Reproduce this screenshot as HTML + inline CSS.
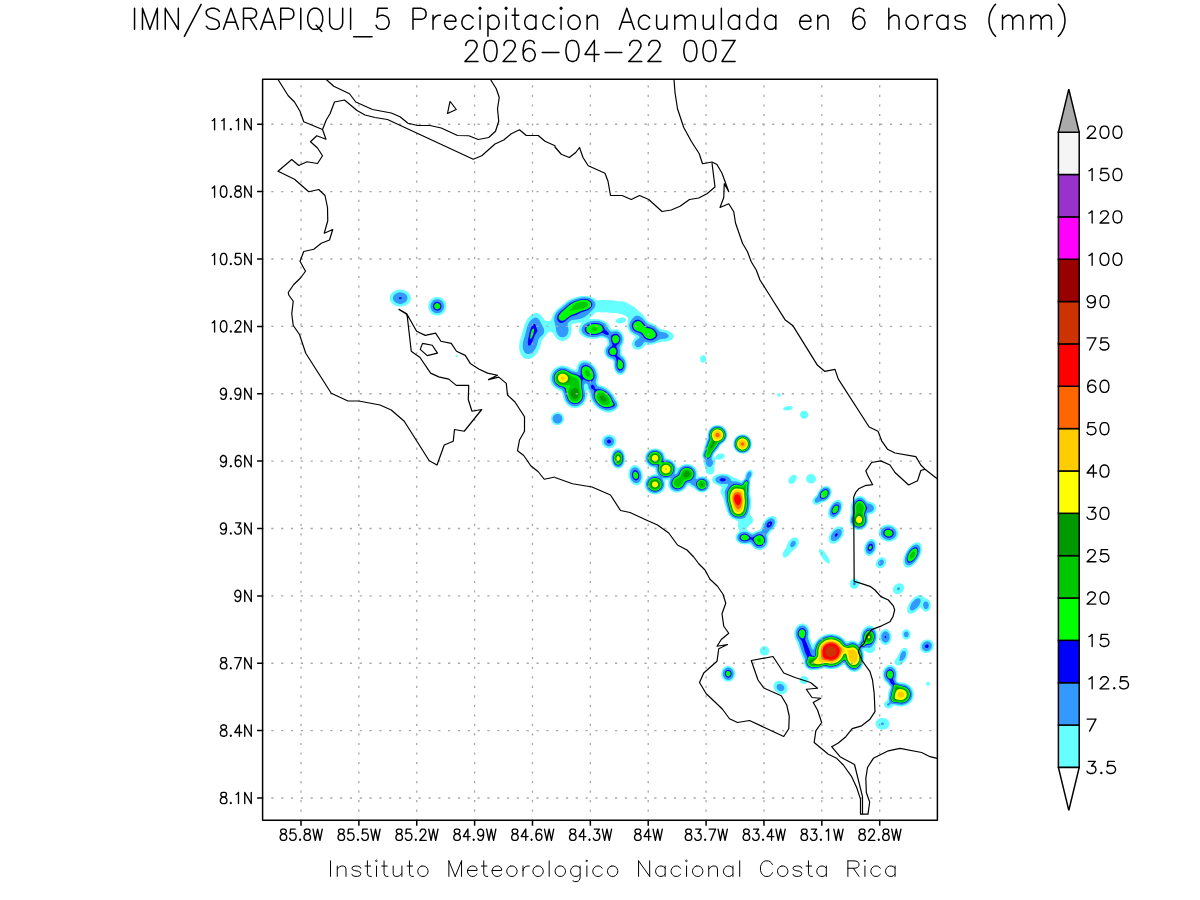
<!DOCTYPE html><html><head><meta charset="utf-8"><title>IMN SARAPIQUI Precipitacion</title><style>html,body{margin:0;padding:0;background:#fff;overflow:hidden;font-family:"Liberation Sans",sans-serif}svg{display:block}</style></head><body><svg width="1200" height="900" viewBox="0 0 1200 900"><rect width="1200" height="900" fill="#fff"/><defs><clipPath id="cp"><rect x="262.6" y="79.25" width="674.8" height="741.05"/></clipPath></defs><g clip-path="url(#cp)" fill-rule="evenodd" shape-rendering="geometricPrecision"><path fill="#66ffff" d="M397.1 290 399.5 289.6 401.5 289.7 403.5 290 405.5 290.7 407.5 291.9 408.7 293 409.9 294.5 410.5 296 410.9 297.5 410.7 299.5 410.3 301 409.4 302.5 408 303.9 406.5 305 405 305.7 403 306.3 401 306.6 399 306.6 397 306.2 395 305.5 393.5 304.7 392 303.5 390.8 302 390 300.5 389.7 299 389.7 297 390.1 295.5 391 294 392 292.8 393.5 291.6 395 290.7ZM581.7 296 586 295.9 590 296.6 593 297.8 596.5 300 597.5 300.4 598.5 300.4 602.5 299.7 608 300.3 613 300.2 618.5 301.2 623 301.4 625.5 302.1 629.7 304.5 633.5 306.4 635.5 307.8 638.5 311 642.7 314.5 644 316.1 646.9 320.5 648.5 322 654.5 324.4 656 325.4 659.1 328 660.5 328.9 662 329.4 666.5 330.2 669.5 331.4 672 333 673.2 334.5 673.6 335.5 673.7 336.5 673.3 338 671.9 339.5 670 340.6 668 341.2 666 341.6 659.5 341.9 655 343.8 652.5 344.5 650.5 344.7 646.5 344.6 645.5 345 643 347.7 641 349.1 638.5 349.8 636 349.6 634.5 348.9 633.5 348.1 632.6 347 632.1 345.5 631.9 343.5 632.4 341.5 633.2 340 635.3 337.5 635.4 337 635.3 336.5 634.8 336 632 334.2 630.5 332.9 629.4 331.5 628.2 329.5 627.6 327.5 627.3 325.5 627.6 321.5 628.3 319 628.1 318 627.6 317.5 625.6 316 623.8 315 617 313.1 612 312.9 607 312.2 602 312.4 597.5 311.8 596.5 311.9 595.5 312.5 589.9 318 589.4 318.5 589.3 319 590.5 319.2 595.5 319.1 598.5 319.3 601.5 319.9 604 320.8 606.5 322.2 608.4 324 609.4 325.5 610.3 328 611 329.1 612 329.6 616 329.2 618.5 329.8 620 330.7 621 331.5 622 332.6 622.9 334 623.9 337 624.1 340 623.8 342 623.3 343.5 621.4 347.5 621.7 353.5 622 354.5 622.3 355 624 356.6 625.1 358 626.3 360.5 626.8 362.5 627 364.5 626.9 367 626.4 369 625.7 371 624.7 372.5 623.5 373.8 622 374.7 620.5 375 619 374.8 617.5 374.1 616.5 373.3 615.1 371.5 614.1 369 613.6 366.5 613.5 362.3 613.1 361 612 360 609 358.9 607 357.6 605.2 355.5 604.4 353.5 604.1 351 604.5 349 605.2 347.5 607.1 345 607.6 344 607.5 342.5 607.1 340.5 606.7 339.5 605.4 338.5 602.5 337.4 601.5 337.5 598 338.3 595.5 338.7 592.5 338.8 590 338.6 586 337.7 584 336.9 582.6 336 581 334.7 580 333.5 579.2 332 578.8 330.5 578.8 329 579.2 327.5 579.9 326 581.7 323 581.5 322.5 580 322.5 573.7 323.5 572.5 323.9 571.8 324.5 571.5 325 571.3 326 571.5 329.5 571.4 331.5 570.7 334.5 569.8 336.5 568.7 338 567.5 339.1 566 340.1 564.5 340.7 562.5 341 560.5 340.7 559 340.1 557.5 339.2 556.3 338 555.2 336.5 553.5 333.7 552.5 332.5 551 331.8 549 331.9 548 332.4 547.5 333 545.4 336 542.3 339.5 541.4 341.5 539.9 347.5 538.6 350.5 536.5 354 534 356.6 532.5 357.6 530.5 358.6 528.5 359.1 526.5 359 525 358.6 523.5 357.8 522.2 356.5 521.1 355 519.8 352 519.2 349 519.1 345.5 519.7 341.5 524.7 324 526.7 320 528 318.1 529.5 316.5 531.5 314.9 534 313.5 536 313 537.5 313 539 313.7 541 315.3 542.4 317 544.5 320 545.5 320.8 546.5 321.1 547.5 321.2 550 320.7 550.5 320.4 551.2 319.5 553.1 314.5 554.2 312.5 555.4 311 557.5 308.8 561.7 305.5 566 301.7 569 299.8 572.5 298.4 577.5 296.8ZM435.8 297 437.5 296.9 439.5 297.2 441 297.7 442.5 298.6 444 300 445 301.5 445.7 303 446.2 305 446.2 307 445.9 309 445.3 310.5 444.4 312 443.5 313 442 314.2 440.5 315 438.7 315.5 437 315.6 435 315.3 433.5 314.8 432 313.9 430.5 312.5 429.5 311 428.8 309.5 428.3 307.5 428.3 305.5 428.6 303.5 429.2 302 430.1 300.5 431 299.5 432.5 298.3 434 297.5ZM619.3 318 621.5 317.5 623.5 317.6 625 318.1 625.9 319 626.1 320 625.6 321 624.5 322 622.5 323 620.5 323.4 618.5 323.4 617 323 615.9 322 615.7 321 616.1 320 617.5 318.8ZM455.8 355.5 456.5 355.1 457.5 355.5 457.7 356 457.5 356.9 457 357.3 456.5 357.4 456 357.2 455.5 356.5 455.5 356ZM702 355.5 703.5 355.3 704.5 355.6 705.5 356.5 706 357.5 706.2 359 706 360.5 705.5 361.5 704.2 362.5 703 362.7 702 362.5 701 361.7 700.3 360.5 700 359 700.3 357.5 701 356.3ZM582.1 360.5 583.5 360.2 585 360.2 588 360.9 591 362.6 592.5 363.9 594.1 365.5 595.5 367.5 596.7 369.5 598.1 373.5 598.5 375.5 598.6 377.5 597.9 382.5 598.4 384 599.5 384.9 603.5 386.3 606 387.6 608.5 389.3 610.5 391.1 612.2 393 613.7 395 616 399 618 402 618.7 404 618.6 406 617.7 408 616 409.8 613.5 411.3 611 412.2 608.5 412.5 606 412.2 603 411.3 600.5 410 598 408.4 595.5 406.2 593.2 403.5 590.9 399.5 589.8 396.5 589 393 588.5 391.9 587.5 390.5 587 389.9 586.6 390 587 395 586.8 397 586.3 399 585.3 401.5 583.5 404.2 581 406.3 579.5 407.2 578 407.7 575 408.1 572 407.7 570.5 407.2 569 406.3 567.5 405.2 566 403.6 564.2 400.5 563.5 398.5 562.5 394.3 561.5 392 560.5 391 556 388.8 553.5 386.8 552.4 385.5 551.5 384 550.8 382.5 550.2 380.5 550 378.5 550.1 376.5 550.4 375 551.1 373 551.9 371.5 553 370 554.5 368.5 556 367.4 558 366.5 560 365.9 562 365.6 564 365.7 566 366.1 567.5 366.6 573 369.4 574.5 369.8 575.5 369.8 576 369.5 576.3 369 577.2 365.5 578.5 363 580 361.5ZM777.8 393.5 779 393.2 779.8 393.5 780.3 394 780.5 394.5 780.5 395.5 779.8 396.5 778.5 396.8 777.8 396.5 777.3 396 777.1 395.5 777.1 394.5ZM786 406.5 788 406.1 790 406 791.5 406.3 792.6 407 792.9 407.5 792.7 408.5 791.5 409.5 790 410.1 788 410.5 786 410.6 784.5 410.3 783.5 409.7 783.1 409 783.4 408 784.5 407.1ZM802.6 411 804.5 410.7 806 411.1 807.3 412 808.2 413.5 808.4 415 807.9 416.5 807 417.7 805.5 418.5 804 418.7 802.5 418.4 801.2 417.5 800.2 416 800 414.5 800.4 413 801.5 411.6ZM555.7 412.5 558 412.3 559.5 412.6 560.5 413 561.5 413.6 562.5 414.6 563.1 415.5 563.8 417 564 419.5 563.6 421 563.1 422 561.5 423.9 560.5 424.5 559.3 425 557 425.2 555.5 424.9 554.5 424.5 553.5 423.9 552.5 422.9 551.9 422 551.2 420.5 551 418 551.4 416.5 551.9 415.5 553.5 413.6 554.5 413ZM717.5 425 719.5 425.2 721.5 425.8 723 426.6 724.7 428 725.9 429.5 726.9 431.5 727.4 433.5 727.5 435.5 727 438 725.9 440.5 724.1 442.5 720.9 445 719.1 448 716.5 451 714.5 453.8 714 454.7 713.6 456 713.6 457 713.9 457.5 714.5 458 716.1 455.5 717.4 454.5 719.5 453.7 721.5 453.5 723 453.8 724.1 454.5 724.6 455.5 724.4 457 723 458.5 722 459.1 720.5 459.6 718.5 459.8 715.5 459.3 715.2 460 715.2 461 715 463.5 714.3 467 714.4 470.5 713.7 472.5 712.9 473.5 711.5 474.3 710 474.4 708.2 474 707.4 473.5 706.5 472.6 705.7 471 705.4 468 703.8 463.5 703.6 460 702.4 457 702.1 455 702.4 453.5 703.4 450.5 704.2 447 705.1 444.5 705.9 441.5 707.4 438 707.6 433.5 708 432 708.6 430.5 710.3 428 712.5 426.3 715 425.3ZM740.4 434.5 742 434.2 744 434.4 745.5 434.7 747.5 435.7 749 437 750.3 438.5 751.3 440.5 751.7 442 751.9 444 751.7 446 751.3 447.5 750.3 449.5 749 451 747.5 452.3 746 453.1 744.6 453.5 743 453.8 741 453.6 739.5 453.3 737.5 452.3 736 451 734.7 449.5 733.7 447.5 733.3 446 733.1 444 733.3 442 733.7 440.5 734.7 438.5 736 437 737.5 435.7 739 434.9ZM606.6 435 608 434.7 609.5 434.6 612 435.2 613.3 436 614.5 437 615.8 439 616.2 440.5 616.2 442 615.9 443.5 615.5 444.5 614 446.5 613 447.3 611.4 448 610 448.3 608.5 448.4 606 447.8 604.7 447 603.5 446 602.2 444 601.8 442.5 601.8 441 602.1 439.5 602.5 438.5 604 436.5 605 435.8ZM616.4 448.5 618 448.2 619.5 448.4 621 449.1 622 449.9 623.3 451.5 624.1 453 624.7 454.5 625.1 456.5 625.3 458.5 625.1 460.5 624.7 462.5 624.1 464 623.3 465.5 622.1 467 621 467.9 619.7 468.5 618.5 468.7 617 468.6 616 468.3 614.5 467.3 613.3 466 612.3 464.5 611.7 463 611.2 461 611 459 611.1 456.5 612.1 453 612.9 451.5 614 450.1 615 449.2ZM653.4 448.5 655.5 448.4 657.5 448.7 659.5 449.4 661.5 450.6 663 452 664 453.5 664.7 455 665.5 457.5 665.9 458 666.8 458.5 670.5 459.6 672 460.4 673.4 461.5 674.3 462.5 675.4 464 677 468 677.5 468.4 681 465.7 682.5 464.9 684 464.4 685.5 464.1 687.5 464 689.5 464.3 691 464.8 692.5 465.5 694 466.6 695 467.6 696.1 469 696.8 470.5 697.3 472 697.5 476 697.8 476.5 698.5 476.7 702 476.2 704.5 476.6 706 477.3 707 478 708.9 480 709.7 481.5 710 483.5 709.9 485.5 709.6 487 708.9 488.5 707.7 490 706.5 491.1 705 491.9 703.5 492.3 701.5 492.5 700 492.3 698.5 491.8 696.5 490.5 694 488.2 691.5 487 689.5 485.5 688.5 485.1 687.5 485.6 685.8 488 684.4 489.5 683 490.6 681.5 491.4 678.5 492.4 675.5 492.4 674 492.1 672.5 491.4 670.5 489.9 669.7 489 668.9 487.5 668.3 486 668.1 484.5 668.3 480.5 668 479.9 667 479.8 665.5 480 665.1 480.5 665.5 485 665.2 487 664.3 489 662.5 491.4 660 493.2 658.5 493.8 656.5 494.3 654.5 494.4 652.5 494.1 650.5 493.4 649 492.6 647.5 491.4 646.3 490 645 487.5 644.6 486 644.5 484.5 644.7 482 645.8 479.5 647.4 477.5 649 476.2 651.5 474.9 655.5 474 655.8 473.5 655.8 473 655.1 469.5 654.7 468.5 654 468 651.5 467.3 649.5 466.4 647.7 465 646.4 463.5 645.6 462 644.9 460 644.7 458.5 644.9 456.5 645.3 455 646 453.5 647 452 648 451 650.5 449.4ZM632.7 465.5 634 465.1 635.5 465.1 637 465.6 638.5 466.5 639.6 467.5 640.7 469 641.8 471 642.3 472.5 642.7 474.5 642.9 476.5 642.8 478.5 642.3 480.5 641.6 482 640.6 483.5 639.5 484.5 638.5 485 637 485.4 635.5 485.3 634 484.8 633 484.2 631.7 483 630.5 481.5 629.7 480 629 478 628.5 476 628.4 474 628.8 470.5 629.4 469 630.3 467.5 631.5 466.2ZM749.1 470 750.5 469.7 751.5 470 752.5 471 752.9 472.5 752.9 474 752.6 475.5 750.8 479 750.5 480 750.5 482.5 750.2 486 750.3 489 750.1 493 751.1 499 751.3 503 750.9 507.5 749.8 513.5 750.2 515 752.6 518 753 519 753.1 520 752.9 521.5 752 522.9 748.6 526 747.5 527.5 746.7 529 746.6 529.5 746.9 530 751 532.4 752.5 532.7 753.5 532.4 756 531.2 759.5 530.1 760.2 529.5 760.8 528.5 762.7 523.5 764.5 520.5 767 518 768.5 517.1 770 516.4 772.5 516 774.5 516.6 775.5 517.3 776.1 518 776.6 519 776.9 520.5 776.9 522 776.7 523.5 776.2 525 775.2 527 773.5 529.2 770.5 532 768.4 535 768.1 536 768.6 539.5 768.5 542 767.7 544.5 766.5 546.5 765.5 547.6 764 548.7 761.5 549.7 760 550 758.5 550 757 549.7 755.3 549 753.2 547.5 751 544.9 750 544.1 749 544 744.5 544.5 741.5 544.1 740 543.6 738.5 542.7 737.1 541.5 736.4 540.5 735.6 538.5 735.5 537 735.7 536 736.7 534 738.9 531.5 739.4 530.5 739.3 530 738.5 528.4 738 527 738 525.5 738.3 523 738.3 522 738.1 521.5 737.5 520.9 733.5 519.1 731.5 517.9 729.9 516.5 728.3 514.5 726.7 511 724.8 504.5 723.2 498 721.2 494 720.7 492.5 720.6 490.5 721.5 487.5 721.5 487 721.1 486.5 720.2 486 716.5 484.6 714.4 483.5 712.9 482 712.3 481 712.1 480 712.3 478.5 712.7 477.5 713.5 476.5 714.5 475.7 716.5 474.8 718.5 474.2 721 473.8 723 473.7 726 474 728.5 474.7 731 475.8 734.5 478 738.5 479.4 741 480.5 742 480.7 743 479.9 744.5 478 745.4 474.5 746.4 472.5 747.5 471.1ZM808.8 474.5 810.5 474 812.5 474.2 814.1 475 815.4 476.5 815.9 478 815.8 480 815 481.6 814.1 482.5 813.2 483 811.5 483.5 809.5 483.3 807.9 482.5 806.6 481 806.1 479.5 806.2 477.5 807 475.9 807.9 475ZM792.8 475 794.5 474.8 795.3 475 796 475.5 796.6 476.5 796.8 478 796.4 479.5 795.5 481.2 794 482.8 792.5 483.6 791 484 789.5 483.6 788.5 482.5 788.2 481 788.5 479.4 789.5 477.5 791 476ZM825.4 486 827 486 828.5 486.3 830 487.3 830.9 488.5 831.5 490 831.7 491.5 831.6 493 831.1 495 829.9 497.5 828.7 499 827.5 500.1 825.5 501.4 822 502.6 818.5 504.5 817.5 504.8 816 504.9 814.5 504.6 813.6 504 812.8 503 812.4 502 812.4 501 812.7 499.5 813.8 497.5 816.5 495 818.6 491 820.1 489 822.5 487 824 486.3ZM858.5 496 860.5 495.9 862 496.3 863 496.7 864.8 498 867 500.5 868 501.3 871.5 502.2 873.3 503 874.5 504 875.3 505 876.1 507 876.2 508.5 875.9 510 875.5 511 874.5 512.3 872.5 513.7 869.5 514.6 868.5 515.1 868.2 516.5 868.5 520.5 868.1 523 867.5 524.5 866.7 526 865 527.9 863 529.3 860.5 530.1 858 530.2 856 529.7 854 528.7 852 526.9 850.7 525 849.7 522 849.5 520 849.7 518 851 513 850.7 507.5 851 505 851.6 503 852.7 500.5 854.5 498.2 856.5 496.7ZM837.1 500 838.5 499.9 839.5 500 840.5 500.5 841.5 501.5 842.1 502.5 842.6 504 842.7 505.5 842.5 507.5 842.1 509.5 841.3 511.5 839.5 514.5 837 517.1 835.5 518.1 834 518.7 832.5 518.9 831.5 518.8 830.5 518.4 829.4 517.5 828.5 516 828.1 514.5 828.1 513 828.2 511 829.3 507.5 830.4 505.5 831.5 503.9 833 502.3 834.5 501.1 836 500.3ZM884.9 525 886.5 524.7 888.5 524.6 890.5 524.9 892.5 525.5 894 526.3 895.6 527.5 896.9 529 897.8 530.5 898.3 532 898.5 534 898.2 535.5 897.6 537 896.6 538.5 895.5 539.5 894 540.5 892 541.3 890 541.6 888.5 541.7 886.5 541.4 884.5 540.8 883 540 881.5 538.9 880.2 537.5 879.3 536 878.8 534.5 878.5 532.5 878.7 531 879.3 529.5 880.2 528 881.5 526.7 883 525.7ZM838.3 526.5 839.5 526.3 841 526.4 842 526.8 843 527.7 843.7 529 843.9 530 844 531.5 843.8 533 843.2 535 842.4 536.5 840.3 539.5 837.5 542 836 542.9 834.2 543.5 833 543.7 831.5 543.6 830.5 543.2 829.5 542.3 828.8 541 828.6 540 828.5 538.5 828.7 537 829.3 535 830.1 533.5 832.2 530.5 835 528 836.5 527.1ZM794 537.5 795.5 537.5 796.5 537.8 797.5 538.5 798 539.1 798.5 540 798.8 541.5 798.7 543 798.3 544.5 797.6 546 796.5 547.6 795 549 791.8 551.5 789 555.1 787.5 556.5 786 557.3 785 557.5 784 557.3 783.5 557 783 556.3 782.7 555.5 782.7 554.5 783 553 783.9 551 786.2 547.5 787.8 543 788.9 541 791 538.8 792.5 537.9ZM871.3 539 872.5 539 873.5 539.3 874.5 540 875.5 541.1 876.2 542.5 876.6 544 876.6 547 875.9 550 875.2 551.5 874.2 553 873 554.3 872 555.1 870.5 555.8 869.5 556 868 555.9 867 555.5 866 554.8 865.3 554 864.8 553 864.3 551.5 864.1 550 864.1 548 864.9 545 865.6 543.5 866.6 542 867.5 541 869 539.8 870 539.3ZM916.1 542.5 917.5 542.3 919 542.6 920.3 543.5 921.3 545 921.7 546.5 921.9 548.5 921.8 550.5 921.2 553 920.3 555.5 919.1 558 917.6 560.5 916.1 562.5 914.5 564.1 912.5 565.8 910.5 567 908.9 567.5 907.5 567.7 906 567.4 904.7 566.5 903.7 565 903.3 563.5 903.1 561.5 903.2 559.5 903.8 557 904.7 554.5 905.9 552 907.4 549.5 908.9 547.5 910.5 545.9 912.5 544.2 914.5 543ZM819.5 549 820 548.9 821 549.2 823 550.5 825 552.6 827.2 555.5 828.8 558.5 829.7 561 829.9 562 829.7 563 829 563.6 827.5 563.2 825.5 561.7 823.5 559.6 821.6 557 819.9 554 819 551.5 818.9 550 819 549.5ZM880.4 557.5 882.5 557.2 883.5 557.4 884.5 557.9 885.6 559 886 560 886.2 561 886.1 563 885.2 565 883.5 566.9 881.6 568 879.5 568.3 878.5 568.1 877.5 567.6 876.4 566.5 876 565.5 875.8 564.5 875.9 562.5 876.8 560.5 878.5 558.6ZM852.4 579 854 578.5 856 578.8 857.5 579.8 858.7 581.5 859.1 583.5 858.9 585.5 858 587.1 856.5 588.4 855 589 853 588.8 851.5 587.9 850.6 587 850.1 586 849.6 584 849.9 582 851 580.1ZM898 583.5 900 583.3 901 583.5 902.1 584 903 584.8 903.5 585.5 903.9 586.5 904.1 587.5 903.8 589.5 902.8 591.5 901 593.1 899 594 897 594.2 896 594 894.9 593.5 894 592.7 893.5 592 893.1 591 892.9 590 893.2 588 894.2 586 896 584.4ZM919.1 595 920.5 594.9 921.5 595.1 922.7 596 924.2 598 925 598.4 927 598.8 928.5 599.7 929.5 600.9 930.1 602 930.6 603.5 930.8 605.5 930.5 607.5 929.6 609.5 928.5 610.8 927 611.6 925.5 611.7 924 611.1 922.8 610 921 607.3 920.5 607.3 920 607.5 918.6 609 916.5 611 914.5 612.4 912.5 613.4 911 613.8 909.5 613.8 908.1 613 907.2 611.5 907.1 610 907.3 608 908.2 605.5 909.5 603 911.3 600.5 913.5 598.2 915.5 596.6 917.5 595.5ZM799.9 624 802 623.5 803.5 623.6 804.5 623.9 806.5 625.1 808.2 627 809.1 629 809.7 631 809.8 633 809.6 636.5 809.9 638 812 643.4 812.5 644.3 813 644.7 813.5 644.6 814 644 815.7 641.5 817.3 639.5 820.5 636.8 822.5 635.7 825 634.7 827 634.1 830 633.7 834 633.9 836 634.4 838.5 635.2 842 637.2 844 638.8 846 640.9 847 641.5 848 641.4 850.5 640.6 852.5 640.5 855 641.1 858 642.5 858.5 642.4 859.5 641.3 860.2 640 860.4 636.5 860.9 634 861.8 631.5 863.4 629 865.5 627.1 867.5 626 870 625.6 872 626.1 874 627.2 875 628.2 875.9 629.5 877.2 632.5 877.8 636 877.7 638 877.3 640 875.3 645.5 875.1 649 874.9 650 873.9 651.5 872.5 652.5 870.5 653 868.5 652.9 866.5 652 864.5 650.4 864 650.3 863.7 650.5 863.6 651 864.1 656 864.1 659 863.7 662 862.9 665 861.6 667.5 860 669.5 858 671 856 671.7 854.5 671.9 853 671.8 851.5 671.4 850 670.7 847.8 669 845 665.5 844.5 665 844 664.8 843 665.1 840.5 666.8 838.5 667.8 836 668.6 833.5 669.1 829.5 669.3 824 668.3 822.7 668.5 818.5 669.7 816.5 669.9 812 670.2 810.5 670 809 669.6 807.5 668.8 806.5 668 805.6 667 804.7 665.5 804.1 663.5 803.5 659.8 801.6 656 797 642.6 795.2 639 794.4 636.5 794.2 634.5 794.3 632.5 794.6 630.5 795.2 629 796 627.5 797.1 626 798.5 624.8ZM885.5 629 887 629.2 888 629.7 889 630.5 889.9 631.5 891.1 634 891.5 637 891.1 640 889.9 642.5 889 643.5 888 644.3 887 644.8 885.5 645 884 644.8 883 644.3 882 643.5 881.1 642.5 879.9 640 879.3 637 879.4 635.5 879.8 634 881.1 631.5 882 630.5 883 629.7 884 629.2ZM904.6 629.5 905.5 629.2 906.5 629.1 908 629.6 909.5 630.9 910.3 632.5 910.6 634.5 910.3 636.5 909.8 637.5 909 638.5 907.5 639.4 906 639.6 905 639.4 904.2 639 903 637.9 902.1 636 901.9 634 902.3 632 903.3 630.5ZM926.3 639.5 927.5 639.4 929 639.5 930 639.8 931.3 640.5 932.3 641.5 933 642.5 933.5 643.5 933.7 645 933.5 647.5 932.9 649 932.2 650 931.3 651 930 652 928.5 652.7 927.5 653 925 653 923.5 652.6 922.5 652 921.5 651.1 920.7 650 920.3 649 920 647.5 920.3 645 920.9 643.5 921.5 642.5 923.5 640.6 925 639.9ZM764.5 646 766.5 646.4 768 647.5 768.9 649 769.3 650.5 769 652.5 768.1 654 766.5 655.2 765 655.6 763 655.4 761.4 654.5 760.2 653 759.7 651 760.1 649 761 647.5 762.5 646.4ZM903.8 648 905 647.8 906 648.1 907 648.9 907.6 650 908 651.5 908 653 907.8 655 907.4 656.5 906.6 658.5 905.8 660 903.5 662.8 901 664.8 900 665.2 898.5 665.5 897 665.3 895.5 664.5 894.6 663 894.5 662 894.6 661 895.3 659.5 897.5 657 899.1 653 900.5 650.7 902 649ZM889.8 665 892 665.2 894 666.2 895.3 667.5 896.4 669.5 897.1 671.5 897.5 673.5 897.4 676 896.8 679.5 897 680.6 897.5 681.5 898 681.9 899 682.2 903 682.6 905 683.1 907 683.8 908.5 684.7 910.5 686.3 911.9 688 913.1 690 913.7 692 914 695 913.6 697.5 912.3 700.5 910.5 702.7 908 704.6 905.5 705.8 902.5 706.4 899 706.4 895 705.6 894 705.5 893 706 891.5 707.5 890.5 708.1 889.5 708.4 888 708.5 886.5 708.1 885.5 707.5 884.6 706.5 884.1 705.5 884 704 884.6 702.5 885.5 701.5 887 700.5 887.6 699.5 888.2 692.5 888.7 690.5 890 687.5 889.7 686.5 887.5 684 885 681.6 883.6 679.5 882.7 676.5 882.6 673 883.4 670 884.2 668.5 885 667.4 887 665.8 888.5 665.2ZM726.5 666 728 665.7 729.5 665.9 731 666.4 732 667 733 667.9 733.9 669 734.7 670.5 735.1 672 735.3 673.5 735.2 675 734.8 676.5 734.2 678 732.5 680.1 731.5 680.8 730 681.5 728.5 681.8 727 681.6 725.5 681.1 724.5 680.5 723.5 679.6 722.6 678.5 721.8 677 721.4 675.5 721.2 674 721.3 672.5 721.7 671 722.3 669.5 724 667.4 725 666.7ZM804 676 805.5 676.2 807 677 808.2 678.5 808.5 680 808.2 681.5 807.5 682.5 806.2 683.5 804.5 684 802.5 683.8 801 683 799.8 681.5 799.5 680 799.8 678.5 801 677 802.5 676.2ZM777.8 681 779 680.8 780.5 680.9 783 681.8 785.3 683.5 786.2 684.5 787 686 787.6 688.5 787.4 690 787.1 691 786.5 692 785.5 693 784.5 693.6 783.2 694 782 694.2 780.5 694.1 778 693.2 775.7 691.5 774.8 690.5 774 689 773.4 686.5 773.6 685 773.9 684 774.5 683 775.5 682 776.5 681.4ZM927.2 682 928 681.8 928.8 682 929.5 682.5 929.8 683 930 684 929.9 684.5 929 685.5 928.5 685.7 927.5 685.7 926.5 685.1 926.1 684.5 926 684 926.2 683 926.5 682.5ZM880.7 718 882 717.8 883.5 717.9 886 718.6 887.9 720 888.7 721 889.2 722 889.4 723 889.5 724.5 888.8 726.5 888 727.5 887 728.4 886 729 884.5 729.6 883 729.8 881.5 729.7 879 729 877 727.5 875.8 725.5 875.5 724.5 875.6 723 876.3 721 877.1 720 878 719.2 879.5 718.4Z"/><path fill="#3399ff" d="M398.5 292.5 400 292.3 401.5 292.4 404 293.2 405.9 294.5 406.7 295.5 407.2 296.5 407.5 297.5 407.4 299 406.5 301 405 302.5 402.5 303.6 401 303.9 399.5 303.9 398 303.6 396.5 303.1 395.5 302.5 394.4 301.5 393.6 300.5 393.2 299.5 393 298.5 393.1 297 393.5 296 394.1 295 396 293.4ZM581.4 297.5 584.5 297.3 587 297.5 589.5 298.1 592 299.3 593.5 300.5 595 302.5 595.4 304 595.3 306 594.2 308 592.5 310 587.4 315 584.7 317 582 318.3 579.5 319.1 577 319.6 572 320.1 570.5 320.8 568.9 322 568.1 323 567.7 324 567.6 325 568.4 328.5 568.5 330.5 568 333 567 334.9 566 336 564.5 336.9 563.5 337.2 562 337.3 560.7 337 559.5 336.4 558.5 335.5 557.5 334.2 556.7 332.5 556.2 331 555.5 326 554.2 321 554.2 318 554.8 315.5 556.1 313 558 310.7 568 302.4 570.5 301 573.5 299.7 578 298.2ZM435.1 299.5 436.5 299.2 438 299.2 439.5 299.5 440.5 300 441.5 300.7 442.5 301.7 443.7 304 444.1 305.5 444.1 307 443.3 309.5 441.9 311.5 440.5 312.5 439.4 313 438 313.3 436.5 313.3 435 313 434 312.5 433 311.8 432 310.8 430.8 308.5 430.4 307 430.4 305.5 431.2 303 432.6 301 434 300ZM635.2 316 636 315.7 637.5 315.7 639 316.1 640.5 316.8 643 318.8 646.1 322.5 647.5 323.8 653.5 326 655.5 327.4 658.5 330.3 660 331.4 661.5 332 664.5 332.6 666 333.1 667.5 334 668.4 335 668.6 336 668.5 336.7 667.9 337.5 667 338.1 665 338.8 661 339.1 659.5 339.4 654.5 341.9 652.6 342.5 650 342.8 645.5 342.1 644.5 342.2 643.5 342.9 642.2 345 641.3 346 640 346.8 639 347.1 637.5 347.2 636.5 346.9 635.5 346.1 635 345.5 634.6 344.5 634.6 343.5 634.7 342.5 635.2 341.5 636.5 340 639 338.5 639.5 338 639.6 337 639.1 336 638.5 335.5 634 333.3 631.7 331.5 630.6 330 629.9 328.5 629.4 327 629.3 325.5 629.7 323 630.7 321 633 318.1ZM535 317.5 536 317.4 537.4 318 538.5 319 539.6 320.5 543.8 328.5 544.2 330 544.2 331.5 543.9 333 543 334.5 539.8 337.5 538.7 339 538.2 340.5 536.7 346 535.3 349 533.5 351.5 531.5 353.1 529.5 353.9 528 354.1 526.5 353.8 525 352.7 523.9 351 523.1 349 522.7 346.5 522.8 344 523.3 341 525.2 334.5 526.8 328 528.1 324.5 529.5 322 531.1 320 533 318.4ZM592.8 321 595.5 320.8 598.5 321.1 601 321.7 603 322.5 604.7 323.5 606 324.8 606.8 326 608.3 329 610.5 331.3 611 331.6 612 331.7 615 331.2 616.5 331.2 617.5 331.5 619 332.2 620 333 621 334.2 621.7 335.5 622.4 337.5 622.5 340 622.2 341.5 621.7 343 619.9 346 619.5 347 619.5 348 620 351 619.9 354 620.5 355.5 623.5 358.4 624.8 360.5 625.6 363.5 625.7 365.5 625.6 367 625 369 624 370.9 623 372 621.5 372.9 620 373.1 618.5 372.7 617 371.5 616 370.1 615.3 368.5 614.9 367 614.8 365 614.8 362 614.7 361 614.2 360 613 358.7 610 357.6 608.2 356.5 606.8 355 606 353 605.8 351 606.3 349 607.2 347.5 609 345.5 609.5 344.5 609.5 343.5 608.6 339.5 608 338.3 606.9 337.5 602.5 335.7 601 335.8 597.5 336.7 595 337.1 592 337.1 589 336.7 586.5 335.9 584.5 334.8 583 333.5 582 332 581.5 330.5 581.5 328.5 582.4 326.5 583.6 325 585.5 323.5 587.5 322.4 590 321.5ZM583.4 362.5 584.5 362.4 586 362.4 588.5 363.2 591 364.8 593.2 367 594.3 368.5 595.4 370.5 596.5 374 596.8 376 596.7 377.5 595.6 382.5 595.9 383.5 596.7 385 597.5 386.1 598.5 386.7 602.5 387.8 605 388.9 607 390.2 609.2 392 611 394 612.5 396 614.5 399.7 616.5 402.5 616.9 403.5 617.1 404.5 617 405.5 616.7 406.5 615.5 408 613.5 409.2 610 410.3 607.5 410.5 605 410.1 602.5 409.2 600 407.9 598.2 406.5 596.5 405 595.2 403.5 593.8 401.5 592.7 399.5 591.9 397.5 591 392.2 588.7 388.5 587.8 384.5 587.3 384 586.5 383.6 585.5 383.4 585 383.5 584.5 383.9 584.2 384.5 583.8 387 584 388.5 585 393 585.2 396 584.7 398.5 583.9 400.5 582 403.2 579.5 405.1 577 406 575.5 406.2 574 406.2 572 405.8 570.5 405.1 568.9 404 567.4 402.5 566.4 401 565.6 399.5 564 393.5 562.7 390.5 561.5 389.3 557 387.2 554.9 385.5 553.7 384 552.8 382.5 552.3 381 551.9 379 552.1 376 553.2 373 555 370.6 557.5 368.8 559 368.1 561 367.6 563 367.5 564.5 367.7 567 368.5 572 371 575.5 371.9 577.1 372 577.9 371.5 578.1 371 578.7 367.5 579.8 365 581.5 363.3ZM556.5 414 558.5 414 560 414.6 561.5 416 562.2 417.5 562.3 419.5 562 420.5 561.5 421.5 560 422.9 558.5 423.5 556.5 423.5 555 422.9 553.5 421.5 552.8 420 552.7 418 553 417 553.5 416 555 414.6ZM714.6 426.5 716.5 426.1 719 426.1 721 426.7 723 427.9 724.6 429.5 725.8 431.5 726.4 433.5 726.5 435.5 726.3 437 725.8 438.5 724.6 440.5 723 442.1 720 444.2 718 447.5 716 449.8 712.9 454 711.7 457.5 711.5 458.5 711.6 459 713 461.5 713.1 462.5 712.9 464 712 465.6 710.5 467 710 467.1 709 467.1 707.5 466.2 706.5 465.1 705.9 464 705.7 463 705.6 460.5 703.8 457.5 703.4 456.5 703.2 455 703.5 453.5 704.6 450.5 705.3 447 706.3 444.5 707.1 441.5 708.5 438.5 708.6 434 709.2 431.5 710 430 711.3 428.5 713 427.2ZM740.2 435.5 742 435.2 743.5 435.2 745 435.6 746.5 436.2 748 437.3 749.1 438.5 750.1 440 750.6 441.5 750.9 443 750.9 445 750.6 446.5 749.8 448.5 748.7 450 747.5 451.1 746.5 451.8 744.8 452.5 743 452.8 741.5 452.8 740 452.4 738.5 451.8 737 450.7 735.9 449.5 734.9 448 734.4 446.5 734.1 445 734.1 443 734.4 441.5 735.2 439.5 736.3 438 737.5 436.9 738.5 436.2ZM607.1 437 609 436.6 611 437 612.6 438 613.7 439.5 614.1 441.5 613.7 443.5 612.6 445 610.9 446 609 446.4 607 446 605.4 445 604.3 443.5 603.9 441.5 604.3 439.5 605.4 438ZM617 450 618 449.8 619.5 450.1 620.5 450.5 621.5 451.3 622.5 452.5 623.3 454 624.1 457 624.1 460 623.3 463 622.5 464.5 621.7 465.5 620.5 466.5 619.5 466.9 618 467.2 617 467 616 466.6 615 465.9 614 464.8 613.2 463.5 612.3 460.5 612.2 457 612.6 455 613.2 453.5 614 452.2 615 451.1 616 450.4ZM652.8 450 654.5 449.7 656.5 449.8 658.5 450.4 660 451.2 661.6 452.5 662.7 454 663.4 455.5 664 458.5 664.5 459.4 665.5 459.8 668 460.2 669.5 460.6 671.5 461.7 672.9 463 674.4 465 675.2 467.5 675.3 470.5 674.5 474 675 474.4 676 474.1 677 473.3 679.5 469 681.6 467 683 466.2 685 465.6 687 465.4 688.5 465.6 690.5 466.1 692.1 467 693.9 468.5 694.9 470 695.6 471.5 695.9 473 695.9 475 695.5 478 695.7 478.5 696 478.9 697 478.9 700.5 477.7 702.5 477.6 704 477.9 705 478.3 707 479.8 708.1 481.5 708.6 483 708.7 485 708.4 486.5 707.7 488 706.5 489.4 705 490.5 703.5 491 701 491.2 699.5 490.8 698.5 490.3 696.8 489 694.5 486.3 692 484.7 690.5 483.4 689.7 483 688.5 482.9 687.5 483.3 686.6 484 686 485 684 487.9 683 488.8 681.5 489.8 680 490.5 678.5 490.9 676.5 491 675 490.7 673.5 490.1 671.9 489 670.7 487.5 670 486 669.7 484.5 669.7 482.5 670.8 478 670.5 477.8 670 477.8 666.5 478.3 663 478.2 662.4 478.5 662.5 479 663.8 482.5 664 484.5 663.9 486 663.4 487.5 662.6 489 660.7 491 659 492.1 657.5 492.6 656 492.9 654 492.9 652.5 492.6 651 492.1 649.5 491.2 648.2 490 647.4 489 646.6 487.5 646 485 646 483.5 646.3 482 647.6 479.5 649.5 477.6 652 476.3 654.5 475.8 658 475.8 658.5 475.5 657.1 472 656.7 470.5 656.5 468 656 467.1 655.5 466.8 652 466 649.5 464.7 648.5 463.8 647.5 462.5 646.4 460 646.2 458.5 646.2 457 646.6 455.5 647.3 454 648.4 452.5 649.5 451.6 651 450.6ZM633.7 467.5 635 467.3 636 467.4 637 467.8 638 468.5 639.7 470.5 640.5 472 641 473.5 641.3 476.5 641.2 478 640.8 479.5 639.5 481.7 638.5 482.6 637.5 483 636.5 483.2 635.5 483.1 634.5 482.8 633.3 482 631.5 479.9 630.3 477 630 474 630.1 472.5 630.5 471 631.2 469.5 632 468.5ZM748.6 472 749.5 471.6 750.5 471.6 751 472 751.3 472.5 751.6 474 751.1 476 749.2 479 749.6 483 749 486.5 749 490 748.7 493.5 749.6 501 749.6 503.5 749.2 507 748.7 510 748 512.5 746.8 515 745.5 517.1 744.5 518 743 518.6 741 518.9 739 518.9 735.5 518.3 733.5 517.4 732 516.4 730.1 514.5 728.7 512 726 502.4 724.8 494 724.7 491.5 725.4 489.5 728 485 728 484.3 727.7 484 727 483.9 724 484.1 721.5 484 719.5 483.6 717.9 483 716.4 482 715.4 480.5 715.3 479 715.9 478 717.5 476.7 719.5 475.9 722 475.5 725 475.7 727.5 476.4 729.2 477.5 730.2 478.5 731.5 481 732 481.2 737 481.5 741.5 483 742.5 482.3 744 480.4 745.8 478.5 746.2 477.5 746.4 475.5 746.9 474 747.5 473ZM824.9 487.5 826 487.4 827.5 487.6 828.5 488.1 829.5 489.1 830.1 490.5 830.4 492 830.3 493.5 829.8 495 828.4 497.5 826.5 499.3 824.5 500.4 821 501.2 819.5 501.8 817.5 502.6 816.5 502.7 815.8 502.5 815.2 502 814.9 501.5 814.7 500.5 814.9 499.5 815.5 498.5 817.5 496.4 819.1 492.5 820.5 490.3 822.5 488.5 823.5 488ZM858.2 498 860.5 497.8 862 498.2 863 498.8 864.5 500 866.5 502.5 867.5 503.3 871 504.2 872.4 505 873.3 506 873.9 507.5 873.9 508.5 873.7 509.5 873.1 510.5 872.5 511.2 871 512 868 512.8 867 513.6 866.6 515 867.2 519 867.1 521.5 866.3 524 865.4 525.5 864.5 526.6 862.5 528 860.5 528.7 858.5 528.9 856.5 528.4 854.5 527.4 853 526 851.7 524 851 522 850.8 520.5 850.9 518.5 852.5 513 852.2 507.5 852.8 504 853.6 502 855 500.1 856.5 498.8ZM836.5 502 837.5 501.8 838.5 501.9 839.5 502.4 840.1 503 840.7 504 841 505 841.1 507.5 840.3 510.5 839 513 837 515.2 835.5 516.2 834.5 516.7 833 516.9 832 516.7 831 516.1 830.5 515.6 829.9 514.5 829.7 513.5 829.7 511 830.6 508 832 505.5 834 503.3 835.5 502.4ZM770.2 518.5 771.5 518.3 772.5 518.5 773.5 519 774 519.4 774.8 521 774.9 522 774.7 523.5 774 525.5 773.1 527 772 528.2 769 530.8 766.4 534.5 766.2 535.5 766.9 539 766.9 541.5 766.1 544 764.7 546 763 547.3 761.5 548 760 548.3 758 548.2 756.5 547.7 755 546.9 753.6 545.5 752 543.4 751 542.6 749.5 542.3 746 543 743.5 543.1 741.5 542.6 740 541.9 738.4 540.5 737.5 539 737.3 537 737.7 535.5 738.8 534 740 533 741.5 532.2 743 531.8 744.5 531.7 746 531.9 747.5 532.3 751 534.2 752.5 534.6 753.5 534.4 757 532.6 761 531.6 761.7 531 763 528.5 764.4 524 765.5 522 767.5 519.9 769 518.9ZM886.5 526.5 888 526.4 889.5 526.5 891 526.8 892.5 527.5 894.5 529 895.3 530 896 531.5 896.3 532.5 896.4 534 896 535.5 895.5 536.5 894.8 537.5 893.6 538.5 892.5 539.1 891 539.7 889.5 539.9 887.5 539.8 886 539.4 884.5 538.8 882.3 537 881.6 536 880.9 534.5 880.7 533.5 880.7 532 881.1 530.5 881.6 529.5 882.5 528.5 883.5 527.7 885 526.9ZM837.5 529 839.5 528.9 840.5 529.3 841 529.8 841.5 530.5 841.7 531.5 841.6 533.5 840.7 536 839 538.3 837 540.1 835 541 833 541.1 832 540.7 831.5 540.2 831 539.5 830.8 538.5 830.9 536.5 831.8 534 833.5 531.7 835.5 529.9ZM792.9 541 794 540.8 795 541.2 795.6 542 795.8 543 795.6 544 795 545.2 794 546.3 793 546.9 792 547.2 791 547.1 790.4 546.5 790.2 545.5 790.4 544 791 542.6 792 541.5ZM869.6 541.5 870.5 541.2 871.5 541 873 541.4 873.7 542 874.5 543 875.1 545 875 547.5 874.3 550 873 552 871.1 553.5 870 553.9 869 554 867.5 553.4 866.3 552 865.7 550 865.7 547.5 866.5 545 868 542.7ZM914.6 545 916 544.6 917.5 544.7 918.5 545.2 919.3 546 920 547.5 920.2 549 920.2 550.5 919.9 552.5 918.7 556 917.6 558 916.3 560 913.5 563.1 912 564.2 910.4 565 909 565.4 907.5 565.3 906.5 564.8 905.7 564 905 562.5 904.8 561 904.8 559.5 905.1 557.5 906.3 554 907.4 552 908.7 550 911.5 546.9 913 545.8ZM880.2 560 881.5 559.6 882.5 559.8 883.5 560.5 883.9 561.5 883.9 562.5 883.5 563.8 882.5 565 881.8 565.5 880.5 565.9 879.5 565.7 878.5 565 878.1 564 878.1 563 878.5 561.7 879.5 560.5ZM854.4 582 855.5 582.5 855.9 583.5 855.9 584 855.5 585 854.5 585.5 853.5 585.2 853 584.6 852.8 584 852.9 583 853.3 582.5 854 582ZM897.9 587.5 899 587.3 899.5 587.5 899.9 588 899.9 589 899.1 590 898 590.2 897.5 590 897.1 589.5 897.1 588.5ZM917 598.5 918.5 598.2 919.5 598.4 920 598.8 920.4 599.5 920.7 600.5 920.4 602.5 919.2 605 917.5 607.3 915.5 609.1 913.5 610.3 912.5 610.5 911.5 610.5 910.5 609.9 909.9 608.5 910.2 606.5 911.2 604 913 601.5 915 599.6ZM925.2 601.5 926.5 601.5 927.5 602 928.3 603 928.7 604.5 928.7 606 928.3 607.5 927.5 608.5 926.6 609 925.5 609 924.5 608.5 923.7 607.5 923.2 606 923.1 604.5 923.5 603 924.3 602ZM800.1 626 802 625.5 804 625.8 805 626.3 806 627.2 807.3 629 807.9 630.5 808.2 632.5 807.9 637 808 638.5 811.5 647.5 812.5 649.4 813 649.8 813.5 649.5 815.3 645 816.4 643 817.9 641 819.4 639.5 821.5 637.9 823.5 636.8 826 635.8 829 635.2 831.5 635.1 834 635.4 836 635.8 838.5 636.8 840.5 637.9 842 639 843.6 640.5 845.5 642.7 846.5 643.4 847.5 643.4 850.5 642.2 853 642.1 855 642.6 858 644.4 858.5 644.5 859 644.2 861.7 640 862.2 635 862.9 633 863.6 631.5 864.8 630 866 628.9 867.5 628.1 869 627.7 870.5 627.7 871.5 628 873.5 629.3 875.1 631.5 875.7 633 876 634.5 876.1 637.5 875.5 640.5 874.4 643 872.2 646 871 647.2 870 647.8 869 647.9 866.5 647.6 862 648.6 861.6 649 862.7 653.5 863 656 863 659 862.6 662 861.8 664.5 860.4 667 858.5 668.9 856.5 670 855 670.4 853.5 670.4 852 670 850.5 669.4 848 667.4 846.8 666 845 663.3 844.5 662.8 844 662.7 843 663.2 840.5 665.1 838.5 666.2 836 667.2 834 667.6 830 667.9 824.5 667 823.5 667.1 819.5 668.3 817.5 668.6 812.5 668.9 810 668.6 808.5 668 807.5 667.2 806.5 666.1 805.8 665 805.2 663 804.9 658.5 803.5 655.5 802.1 652 798.9 642 796.7 638 796 636 795.8 633 796.5 630 798 627.6 799 626.7ZM884.3 631.5 886 631.3 887.5 631.9 888.9 633.5 889.6 635.5 889.7 638 889.2 640 888 641.6 886.7 642.5 885 642.7 883.5 642.1 882.1 640.5 881.4 638.5 881.3 636 881.8 634 883 632.4ZM905.7 631.5 906.5 631.4 907.5 631.8 908.1 632.5 908.6 633.5 908.7 634.5 908.5 635.6 908 636.5 907 637.2 906 637.3 905 636.9 904.2 636 903.9 635 903.8 634 904.1 633 904.8 632ZM926 641.5 928 641.3 929.9 642 930.5 642.5 931.3 643.5 931.8 645 931.7 647 931 648.5 929.5 650.2 927.8 651 926 651.2 925 651 924 650.6 922.8 649.5 922.2 648.5 922 647.5 922.1 645.5 922.7 644 924.1 642.5ZM903.6 651 904.6 651 905 651.2 905.6 652 906 653.5 905.8 655.5 905.1 657.5 904 659 903 660 901.5 660.9 900.3 661 899.6 660.5 899.5 659.5 899.9 656.5 900.5 654.5 901.3 653 902.5 651.6ZM889.1 667 891 667 892.5 667.6 894 668.8 895.1 670.5 895.8 672.5 896 674.5 895.9 676 895.3 678.5 895.3 679.5 895.9 681.5 896.5 682.5 897.6 683 900 683.8 904.5 684.6 907 685.6 908.5 686.7 910 688.1 911.2 690 911.9 691.5 912.3 693.5 912.2 696 911.5 698.5 910.3 700.5 908.5 702.3 906.5 703.6 904 704.6 901.5 705 899 704.8 891.5 703.7 890.6 704 890 705 889 705.8 888 705.7 887.5 705.5 887.1 705 887 704.4 887.4 703.5 889 702.7 889.4 702 889.1 698.5 889.7 693.5 890.1 691.5 891.3 688.5 891.5 687 891.1 686 889.6 684.5 888 682.1 886 680.2 885.2 679 884.2 676.5 884 674 884.5 671.5 885.5 669.5 887 667.9 888 667.3ZM726.2 668 727.5 667.6 728.5 667.6 730.5 668.1 732.2 669.5 733.3 671.5 733.7 673.5 733.3 676 732.9 677 732 678.2 730.3 679.5 729 679.9 728 679.9 726 679.4 724.3 678 723.2 676 722.8 674 723.2 671.5 723.6 670.5 724.5 669.3ZM778.8 684 780.5 683.9 782 684.4 783.3 685.5 784 686.5 784.4 688 784.1 689.5 783.2 690.5 782.2 691 780.5 691.1 779 690.6 777.7 689.5 777 688.5 776.6 687 776.9 685.5 777.8 684.5ZM882 722.5 883 722.5 883.8 723 884 723.4 884 724.2 883.2 725 882 725.1 881.1 724.5 880.9 723.5 881.2 723Z"/><path fill="#0000ff" d="M400 297 401 297.2 401.5 297.6 401.6 298.5 401 299.1 400 299.2 399.3 299 398.9 298.5 398.8 298 399.1 297.5ZM580 299.5 583 299 585.5 299.1 588 299.6 589.9 300.5 591.5 302 592.2 303.5 592.3 305 591.5 307 590 308.6 588 309.9 586 310.8 581 312.4 576.5 314.8 571.5 316.4 569.5 317.6 567 319.8 564.5 321.7 562.5 322.8 561 322.9 559.5 322.4 558 321 557.4 320 557.1 318.5 557.1 317.5 557.4 316 558.3 314 560.6 311.5 564.5 308.3 568.2 305 570 303.6 574.5 301.3ZM436 302 437 301.8 438 301.9 439.5 302.5 440.6 303.5 441.3 305 441.5 306.5 441 308.4 440 309.7 438.5 310.5 437.5 310.7 436.5 310.6 435 310 433.9 309 433.2 307.5 433 306 433.5 304.1 434.5 302.8ZM636.1 320 637.5 319.7 638.5 319.7 640.5 320.4 642.5 322 645 325 646 325.9 647.5 326.6 650.5 327.4 652.1 328 654 329.2 655.5 330.8 657.2 333.5 657.5 335 657.3 336 656.7 337 655.5 338.2 654 339.3 652.5 339.9 651 340.3 649.5 340.3 647.9 340 646 339.2 644 337.7 642 334.8 641 333.8 639.6 333 635.5 331.5 634.1 330.5 633.1 329.5 632.5 328.5 632 327 631.8 325.5 632.1 324 632.5 323 633.5 321.7 634.5 320.8ZM593.3 323 595.5 322.9 598 323.2 600 323.7 601.5 324.5 602.8 325.5 603.5 326.4 605.3 330 607.7 332 608.5 333 608.8 334 608.7 334.5 608 334.9 607.5 335 606 334.7 603 333.1 602 333.1 600.5 333.5 598 334.5 596 334.9 594 335.1 592 335 590 334.7 588.1 334 586.5 333 585.5 332 584.9 331 584.6 329.5 584.9 328 585.9 326.5 587 325.4 589 324.2 591 323.5ZM533.9 324 534.5 323.9 535 324.1 535.6 325 537.3 330 537.4 331 537 332 535 334.9 532.3 342 531.5 343.6 530.5 344.9 529.5 345.6 529 345.7 528.5 345.4 528 344.5 527.8 342 528.2 339 529.5 332.5 530.7 328.5 532.2 325.5 533 324.6ZM613.9 334 616 333.7 617 333.9 618 334.5 619.4 336 620.2 338 620.3 340 619.7 342 618.7 343.5 616.6 345.5 616.3 346.5 617.4 349.5 617.7 351 617.7 352.5 617.2 355 617.5 356 622.5 360.4 623.5 362 623.9 363.5 624 365.9 623.5 367.9 622.5 369.5 621 370.5 619.5 370.5 618.5 370 617.6 369 617 367.9 616.5 365.5 616.7 361 616.2 359 615.6 357.5 615.2 357 614.5 356.6 611.5 355.9 610 355.2 608.8 354 608.1 352.5 608 351.5 608.1 350.5 608.8 349 610 347.7 612.2 346 612.7 345 611 340.4 610.8 338 611 336 611.9 335ZM585.4 365 587.5 365.3 589.5 366.4 591.5 368.1 593 370.2 594 372.5 594.5 375 594.4 377.5 593.6 379.5 592 381.2 590.5 381.7 588 381.3 583.5 379.4 583 379.4 582.5 379.8 582.2 381.5 582 386.5 582.2 388.5 583.2 393.5 583.2 396.5 582.6 398.5 581.9 400 580.8 401.5 579.5 402.7 578 403.5 576 404.1 574 404.1 572.5 403.7 570.5 402.7 569.2 401.5 568.1 400 567.1 398 565 390 564.3 388.5 563 387.5 559.5 386.4 557.5 385.3 556 384 554.7 382 554 380 553.8 378 554 376 554.8 374 556.3 372 558.3 370.5 560.5 369.6 563 369.4 564.5 369.6 566 370.1 571.5 373 575.5 374.1 580 375.7 580.5 375.4 580.6 375 580.7 370 581 368.5 581.4 367.5 582.1 366.5 583 365.7 584 365.2ZM591.5 385 592 384.7 592.5 384.7 593 384.8 593.8 385.5 594.5 386.5 595.1 388.5 595.5 389.1 596.5 389.3 600 389.3 602.5 389.9 605.5 391.3 608.5 393.8 610.6 396.5 612.6 400.5 614.6 403.5 614.8 404.5 614.6 405.5 614 406.3 612.9 407 608 408.2 606.5 408.2 605 408 603 407.4 601.5 406.6 599.5 405.3 598 404 595.6 401 594.2 398 593.7 395 594.2 390.5 594 390 591.6 388.5 591 387.6 590.9 386ZM714.8 427.5 717 427.1 719 427.2 721 427.8 722.5 428.8 724 430.4 724.9 432 725.4 434 725.4 436 724.9 438 723.7 440 722.1 441.5 719.6 443 718.5 443.9 717 446.5 712 453 711.3 454.5 710.8 456 710 457.3 709 458.3 708 458.7 706.5 458.3 705.4 457.5 704.6 456 704.6 454.5 705.8 451 706.5 447.5 708.4 442 709.7 439 709.5 434.5 710.1 432 710.9 430.5 712 429.2 713.5 428.1ZM740.2 436.5 741.5 436.2 743 436.1 744.5 436.4 746 437 747.4 438 748.3 439 749.3 440.5 749.7 441.5 750 443 750.1 444.5 749.8 446 749.3 447.5 748.3 449 747.4 450 746 451 744.8 451.5 743.5 451.8 742 451.9 740.5 451.6 739 451 737.6 450 736.7 449 735.7 447.5 735.3 446.5 735 445 734.9 443.5 735.2 442 735.7 440.5 736.7 439 737.6 438 739 437ZM607.7 440 609 439.5 610 439.8 610.5 440.2 611 441 611.1 441.5 610.8 442.5 610.3 443 609 443.5 608 443.2 607.5 442.8 607 442 606.9 441.5 607.2 440.5ZM618 451.5 619 451.6 620 452 621.5 453.5 622.1 454.5 622.7 456 623 458.5 622.7 461 622.1 462.5 621.5 463.5 620 465 619 465.4 618 465.5 616.3 465 615.5 464.4 614.7 463.5 614.1 462.5 613.6 461 613.3 458.5 613.6 456 614.1 454.5 614.7 453.5 616 452.2 617 451.7ZM652.7 451.5 654.5 451.2 656 451.2 658 451.8 659.3 452.5 660.9 454 662 456 662.3 457.5 662.5 461 663 461.3 663.5 461.4 666.5 461.4 669 462 671 463.1 672.7 465 673.5 466.5 673.9 468.5 673.8 470.5 673.4 472 672.6 473.5 671.5 474.8 670 475.8 668.5 476.5 666.5 476.9 664.5 476.7 662.5 476.1 661 475.2 659.5 473.5 658.5 471.5 658.1 469.5 658.2 466.5 658.1 465.5 657 465.1 654 465 652 464.5 650 463.2 648.6 461.5 647.9 460 647.7 458.5 647.8 457 648.2 455.5 649 454.1 650 453 651.5 452ZM684.2 467.5 686 467.1 688 467.1 690 467.7 691.5 468.6 692.9 470 693.8 471.5 694.3 473.5 694.1 475.5 693.2 478 692 479.6 690.5 480.4 687 481.4 686 481.9 685.1 483 684 485 683 486.5 681.9 487.5 680.5 488.4 679 489 677 489.2 675 488.8 673.6 488 672.6 487 671.8 485.5 671.4 484 671.5 482 672.2 480 673.2 478.5 674.5 477.3 678.1 475 678.8 474 680.2 471 681 469.8 682.5 468.4ZM633.8 470.5 635 470.1 636.5 470.4 638 471.8 638.9 473.5 639.3 475.5 639.1 477.5 638.5 479 637.4 480 636 480.4 634.7 480 633.5 479 632.5 477.4 632 475.5 632.1 473.5 632.8 471.5ZM653.1 477.5 654.5 477.3 656 477.3 657.5 477.7 659 478.3 660 479.1 661 480.1 662.2 482.5 662.4 484 662.4 485.5 661.9 487 661.4 488 660.5 489.2 659.5 490 658.5 490.7 657 491.2 655.5 491.5 654 491.4 652.5 491.1 651.2 490.5 650 489.6 648.9 488.5 648.3 487.5 647.7 486 647.5 484.5 647.7 483 648.2 481.5 648.7 480.5 650.5 478.7 652 477.9ZM720.7 478.5 722 478.1 723 478 724.8 478.5 725.5 479 725.8 479.5 725.8 480 725.6 480.5 724.9 481 723 481.5 722 481.4 720.7 481 720 480.5 719.7 480 719.7 479.5 720 479ZM701.4 479 703.5 479.2 704.5 479.7 705.5 480.4 706.7 482 707.3 484 707 486 706.6 487 705.9 488 705 488.8 704 489.3 702 489.8 700 489.4 699 488.9 698 488.1 696.8 486.5 696.1 485 695.9 484 696.2 482.5 697.3 481 699.5 479.5ZM745.9 480.5 746.5 480.3 747.5 480.5 748.2 481.5 748.4 483 747.8 487 747.7 490.5 747.2 494.5 747.9 500 747.9 503.5 747.2 509 746.4 512 745.2 514 743.8 515.5 742 516.5 740 517.1 738 517.2 735.5 516.7 733.5 515.7 731.6 514 730.6 512.5 729.8 510.5 727.3 500.5 727 497.5 727 494.5 727.3 492 728 490 728.8 488.5 730 486.8 731 485.8 732.5 484.7 734 484.1 736 483.8 738 484.1 740.9 485 742 484.9 743 484 744.5 481.6ZM824 489.5 825.5 489.2 827 489.5 828.1 490.5 828.6 491.5 828.7 492.5 828.4 494.5 827.5 496.3 826 497.8 824.5 498.6 822.5 498.9 821 498.6 820.2 498 819.8 496.5 820.1 494 821 492.1 822.4 490.5ZM859.4 500 860.5 500 861.5 500.3 862.5 500.9 863.5 501.8 864.5 503 866.7 506.5 867.3 508 867.1 509 865.5 511.9 865 513.5 865 515 865.8 519.5 865.8 521 865.4 522.5 864.8 524 863.6 525.5 862.5 526.3 861 527.1 859.5 527.4 858 527.3 856.5 526.9 855 526 854 525 853 523.5 852.4 522 852.2 520.5 852.4 518 853.9 514 854.1 513 853.8 508 854 506 854.4 504.5 855.4 502.5 856.5 501.3 858 500.3ZM835.9 504.5 837.5 504.4 838.5 505 839.2 506.5 839.2 508 838.9 509.5 838 511.5 836.5 513.3 835 514.2 833.5 514.4 832.5 514 831.8 513 831.5 511 831.9 509 832.9 507 834.5 505.3ZM769.5 521.5 770.5 521.3 771.5 521.7 772 522.5 772.1 523.5 771.7 525 771 526 770 526.9 769 527.4 768 527.6 767.5 527.5 767 527.1 766.7 526.5 766.6 525.5 767 524 767.5 523.1 768.5 522.1ZM886 529 888 528.6 890 528.8 891.5 529.5 893.1 531 893.7 532.5 893.8 533.5 893.6 534.5 892.8 536 892 536.7 891 537.3 889 537.7 887 537.4 885.2 536.5 883.8 535 883.2 533.5 883.2 532.5 883.4 531.5 884.4 530ZM836.2 533.5 837 533.3 837.5 533.4 837.8 534 837.5 535.3 837 536 836.3 536.5 835.5 536.7 835 536.6 834.7 536 835 534.7 835.5 534ZM742.4 534 744.5 533.6 746.6 534 748.4 535 751 537.2 752 537.6 753 537.2 756.5 535 758 534.4 760 534.3 762 534.7 763 535.4 764 536.7 764.6 538 765 539.5 765 541 764.8 542 764.1 543.5 763.4 544.5 762 545.5 760.5 546.1 759 546.2 757.5 545.9 756.5 545.4 755.4 544.5 752.5 540.5 751.5 539.6 750.5 539.6 747 540.9 745.5 541.3 743.5 541.3 742 540.8 741 540.2 740.3 539.5 739.7 538.5 739.6 537.5 739.7 536.5 740.3 535.5 741.4 534.5ZM870 544 871 543.8 872 544.1 872.8 545 873.1 546 873.1 547.5 872.6 549 872 550 870.7 551 870 551.2 868.9 551 868 550.1 867.7 549 867.7 547.5 868.2 546 869 544.8ZM914.2 547.5 916 547.3 917 547.7 917.5 548.2 918.2 550 918.2 551.5 918 553 917 556 915.1 559 913 561.2 910.8 562.5 909 562.7 908 562.3 907.5 561.8 906.8 560 906.8 558.5 907 557 908 554 909.9 551 912 548.8ZM800.4 628.5 802 628 803.5 628.3 804.6 629 805.7 630.5 806.2 632 806.3 633.5 806 635.5 805.2 638.5 805.2 640 806.6 643 809.5 650.1 810.9 654.5 811.3 655 812.5 655.8 814 656.1 814.5 655.9 815 655.4 815.4 654 815.5 650 816.1 647 816.7 645.5 817.8 643.5 819.9 641 822 639.3 825 637.7 828 636.8 831.5 636.5 833.5 636.7 835.5 637.2 839 638.6 842 640.9 845 644.5 846 645.1 847.5 645.2 850.5 643.9 852 643.6 854 643.8 856.5 645.1 858.1 646.5 859 647.5 860.6 650.5 861.6 654 862 658 861.8 660 861.4 662 860.6 664 859.8 665.5 858.5 667 857.5 667.8 856.5 668.3 855 668.7 853.5 668.8 852 668.4 850.5 667.7 849.5 667 847.6 665 845.5 661.5 845 660.8 844.5 660.4 844 660.4 843.5 660.7 841 663 838.5 664.6 836 665.7 834 666.2 832 666.5 830 666.5 824.5 665.7 823.1 666 819.5 667.1 817.5 667.4 812 667.6 810.5 667.3 809.5 667 808.5 666.3 807.7 665.5 806.7 663.5 806.5 661 807.1 657.5 807.1 656.5 805 652 802 641.5 801.5 640.5 798.9 637.5 797.9 635.5 797.7 633.5 798.1 631.5 799 629.8ZM868 630 869.5 629.7 870.5 629.9 872 630.6 873 631.6 873.9 633 874.4 634.5 874.6 636 874.5 638 874.2 639.5 873.5 641.1 872.6 642.5 871.5 643.7 870 644.5 867 645 866 645.5 864 646.7 862.5 646.9 861.5 646.6 861 646.2 860.7 645.5 860.6 644.5 861.2 643 863 641.2 863.4 640.5 863.5 636.5 863.8 635 864.4 633.5 866 631.3 867 630.5ZM885.1 636 885.5 635.8 885.9 636 886.3 636.5 886.3 637.5 885.9 638 885.5 638.2 885.1 638 884.7 637.5 884.7 636.5ZM926.4 644.5 927.7 644.5 928.4 645 928.6 645.5 928.7 646 928.5 647 927.5 647.9 927 648.1 926 648 925.5 647.6 925.1 647 925 646.5 925.3 645.5 925.6 645ZM888.9 669.5 890 669.3 891.5 669.7 892.6 670.5 893.6 672 894 673.5 894.1 675 893 679 893.3 680 894.1 681.5 894.5 683 894.9 683.5 897.5 684.2 900.5 685.4 903.5 685.9 905.5 686.6 906.9 687.5 908.1 688.5 909 689.6 909.9 691 910.4 692.5 910.6 694 910.6 695.5 910.1 697.5 909.3 699 908.1 700.5 906.9 701.5 905.5 702.4 903.5 703.1 901.5 703.4 895 702.8 892.5 702.1 891.7 701.5 891 700.5 890.5 699 890.6 697.5 891.6 692.5 892.6 689.5 892.9 685.5 892.8 685 892.5 684.6 891.5 683.9 890.7 683 889.7 680.5 887 678 886.2 676.5 885.9 675 886.1 673 886.7 671.5 887.5 670.4ZM727.3 670 728.5 669.8 730 670.4 731 671.4 731.5 672.5 731.7 674 731.3 675.5 730.5 676.7 729.2 677.5 728 677.7 726.5 677.1 725.5 676.1 725 675 724.8 673.5 725.2 672 726 670.8Z"/><path fill="#00ff00" d="M581.3 300 583.5 299.8 586 300 588 300.5 589.6 301.5 590.5 302.5 591.1 304 590.9 305.5 590.1 307 589 308.1 587 309.3 580.5 311.2 575.5 313.6 571 315.3 569 316.4 566.5 318.5 564.5 320 563 320.7 561.5 320.8 560 320.3 559 319.1 558.6 317.5 559 315.6 560 313.9 561.3 312.5 568.5 306.1 571.2 304 573.9 302.5 576.1 301.5 579 300.5ZM435.8 303.5 437 303.1 438 303.2 439 303.7 440 304.9 440.3 306 440.2 307 439.8 308 438.7 309 437.5 309.4 436.5 309.3 435.5 308.8 434.5 307.6 434.2 306.5 434.3 305.5 434.7 304.5ZM636.1 321.5 638 321.1 640 321.6 641.8 323 644.1 326 645.5 327.3 647 327.9 650 328.5 651.4 329 653 330 654 330.9 655.4 333 655.7 334 655.8 335 655.5 336 654.8 337 653.6 338 652.5 338.6 651 339 649.5 339.1 647 338.3 646 337.7 645 336.8 643 333.9 642 332.8 640.5 331.9 636.5 330.7 635.4 330 634.5 329.2 633.4 327.5 633.1 326 633.2 325 633.5 324 634.1 323 635 322.2ZM593 324 596 323.9 599 324.5 600.1 325 601.4 326 602.2 327 602.6 328 602.8 330 602.3 331 601 332 599 333 595.7 334 592.5 334.1 589.8 333.5 588.5 332.9 587.5 332.2 586.9 331.5 586.4 330.5 586.2 329.5 586.3 328.5 586.8 327.5 587.6 326.5 589.8 325 591 324.5ZM533 328.5 533.5 328.4 534 329.2 534 331.5 532.5 336.2 531.3 338.5 531 338.9 530.5 339 530.3 338.5 530.2 337 530.5 334.7 531.5 330.9 532 329.8ZM614.1 335.5 615.5 335.2 617 335.5 618 336.3 618.8 337.5 619.1 339 618.9 340.5 618.2 342 617 343.1 615.5 343.6 614.5 343.4 613.5 342.7 612.5 341 612.1 339 612.3 337.5 613 336.3ZM611.8 348 613.5 347.6 614.5 347.8 615.5 348.7 616.4 350.5 616.4 352 616 353.5 615.2 354.5 614 354.9 612.5 354.9 611.2 354.5 610 353.5 609.5 352.5 609.3 351 609.7 350 610.5 348.9ZM618.2 360 618.5 359.6 619 359.6 620 360 621.5 361.1 622.6 362.5 623 364 623 366 622.6 367.5 621.9 368.5 621 369.1 620 369.2 619 368.8 617.9 367.5 617.5 366 617.4 364.5ZM584.3 366.5 585.5 366.2 586.5 366.3 588.6 367 590 368 591 369 592.5 371.3 593.4 374 593.4 376.5 593 378 592.5 378.8 591 380 590 380.3 589 380.3 586.5 379.5 584.2 378 583.3 377 582.7 376 581.8 373 581.8 370 582.5 368 583.5 367ZM559.9 370.5 562.5 370.1 564 370.2 565.5 370.6 567 371.3 571 373.7 575.5 375.1 577.5 376 579 377 580.3 378.5 580.9 380 581.1 381.5 581.2 387 582.4 393 582.4 396 581.8 398.5 580.6 400.5 579 402 577 403 575.5 403.3 573.5 403.1 571.5 402.3 570 401.2 568.7 399.5 567.6 397 566.6 393 565.9 389 565.5 388 564.2 387 560.5 386 558.5 385.1 557 384 555.4 382 554.8 380.5 554.5 378.5 554.6 376.5 555.1 375 555.9 373.5 557 372.3 558.5 371.1ZM597.7 390.5 599 390.3 600.5 390.3 602 390.6 603.5 391.1 606.5 393 609 395.5 610.6 398 613.3 404 613.2 405 612.8 405.5 612 406 610 406.7 608 407.1 606.5 407.3 605 407.1 603.5 406.7 601.5 405.7 600 404.7 598.5 403.4 597.2 402 596 400.1 595.2 398.5 594.7 396.5 594.6 395 594.9 393.5 595.5 392 596.5 391ZM716.4 427.5 718 427.4 720 427.8 721.5 428.6 723 429.8 724.2 431.5 724.8 433 725.1 435 724.9 436.5 724.2 438.5 723 440.2 722 441.1 718.7 443 718 443.7 716.3 446.5 711.6 452.5 710.7 454.5 710.1 456 709.5 456.9 708.5 457.7 707.5 457.8 706.5 457.5 705.5 456.5 705.1 455.5 705.2 454 706.4 451 707 447.5 709 442.1 710.2 439.5 710.3 438.5 709.9 434.5 710.5 432 711.5 430.4 713 428.9 714.5 428ZM742.3 436.5 743.5 436.6 745 437 746.5 437.7 747.4 438.5 748.3 439.5 749.1 441 749.7 443.5 749.7 445 749.3 446.5 748.6 448 747.9 449 746.8 450 745.5 450.8 744 451.4 742.7 451.5 741.5 451.4 740 451 738.5 450.3 737.6 449.5 736.7 448.5 735.9 447 735.3 444.5 735.3 443 735.7 441.5 736.4 440 737.1 439 738.2 438 739.5 437.2 741 436.6ZM653 452 655 451.7 657 452 658.5 452.6 660.2 454 661.2 455.5 661.7 457 661.8 459 661.4 461.5 661.5 462.2 662 462.4 666 461.9 668 462.2 669.5 462.8 670.5 463.4 671.5 464.3 672.4 465.5 673.1 467 673.4 468.5 673.3 470 673 471.5 672.2 473 671.5 474 670 475.2 668.5 475.9 666.5 476.3 664 476.1 662 475.2 660.1 473.5 659.2 472 658.7 470 658.7 468 659.3 465 659.2 464.5 659 464.3 655 464.6 653 464.3 651 463.3 650 462.5 649.2 461.5 648.7 460.5 648.3 459 648.3 457.5 648.6 456 649.4 454.5 650.3 453.5 651.5 452.6ZM616.6 452.5 617.5 452.2 618.5 452.1 620 452.7 620.9 453.5 621.5 454.4 622.3 456.5 622.5 459 622 461.5 621 463.3 619.6 464.5 618 464.9 617 464.7 616 464.1 614.7 462.5 613.9 460.5 613.7 458 614.2 455.5 615.4 453.5ZM684.8 468 686.5 467.7 688.5 467.9 690 468.4 691.5 469.4 692.5 470.6 693.2 472 693.6 473.5 693.4 475.5 692.5 477.6 691 479.2 689.5 479.9 686.5 480.8 685.2 481.5 684.5 482.4 682.8 485.5 682 486.5 680.7 487.5 679 488.2 677.5 488.4 676 488.3 674.5 487.6 673.3 486.5 672.5 485.1 672.2 483.5 672.3 482 673.1 480 674.2 478.5 675.5 477.5 678.2 476 679 475.2 679.5 474.4 680.7 471.5 681.7 470 683 468.9ZM634.2 472 635 471.6 636 471.7 637 472.4 637.7 473.5 638.2 475 638.2 476.5 637.9 477.5 637.1 478.5 636 478.9 635 478.7 634.2 478 633.5 477 633.1 475.5 633.1 474 633.5 472.8ZM653.5 478 656 477.9 657.5 478.3 658.5 478.7 659.6 479.5 660.5 480.5 661.2 481.5 661.7 483 661.8 484 661.8 485.5 661.3 487 660.7 488 659 489.7 658 490.3 656.5 490.8 654 490.8 652.5 490.5 651.5 490 650.5 489.3 649.5 488.3 648.7 487 648.4 486 648.2 485 648.2 483.5 648.6 482 649.1 481 649.9 480 651 479.1 652 478.5ZM699.9 480 701.5 479.6 703.5 479.9 705.3 481 706.3 482.5 706.7 484.5 706.2 486.5 705 488 703.5 488.9 701.5 489.2 700 488.8 698.5 487.8 697.3 486 696.8 484 697.1 482.5 698.3 481ZM745.5 481.5 746.5 481.1 747 481.2 747.6 482 747.9 483 747.2 487.5 747.2 490.5 746.7 494.5 747.4 500 747.4 503.5 746.8 508.5 746 511.5 744.9 513.5 743.5 514.9 742 515.9 740 516.5 738 516.7 736 516.3 734 515.4 732.5 514.2 731.2 512.5 730.5 511 727.8 500.5 727.6 498 727.6 495 727.9 492.5 728.6 490.5 729.4 489 730.5 487.4 731.5 486.4 733 485.4 734.5 484.8 736 484.6 737.5 484.8 740.5 485.6 742 485.6 743 484.9 744.5 482.5ZM823.7 490.5 825 490.1 826.5 490.3 827.5 491.3 827.9 492.5 827.8 494 827 495.7 825.8 497 824.5 497.7 823 498 822 497.8 821.1 497 820.7 496 820.8 494.5 821.5 492.6 822.5 491.4ZM858.9 501 860 500.9 861 501.1 862 501.6 863 502.4 864 503.6 865.1 505.5 865.6 507 865.8 508 865.6 509.5 864.5 512.3 864.2 513.5 864.3 515 865.3 519 865.3 520.5 865 522 864.4 523.5 863.3 525 862 526 860.5 526.6 859.5 526.8 858 526.7 856.5 526.3 855.3 525.5 854.3 524.5 853.5 523.3 853 522 852.7 520.5 852.9 518 854.6 514 854.8 513 854.5 508 854.6 506.5 855 505 855.7 503.5 856.5 502.4 857.5 501.6ZM835.1 506 836.5 505.5 837.5 505.8 838.1 506.5 838.3 508 838.1 509.5 837.4 511 836.5 512.1 835.2 513 834 513.2 833.4 513 832.6 512 832.4 511 832.5 509.9 833 508.5 834 506.9ZM768.9 524 769.5 523.6 770 523.8 770 524.5 769.5 525 769 525.1 768.7 524.5ZM886.5 530 888 529.7 890 530 891.5 530.9 892.2 532 892.5 533.5 892.3 534.5 891.5 535.6 890 536.4 888.5 536.6 887 536.3 885.7 535.5 884.9 534.5 884.5 533.4 884.6 532 885.2 531ZM742.6 535 744 534.6 745.5 534.7 746.5 535 748 536 748.8 537 749 538 748.4 539 747 539.9 745.5 540.3 744 540.4 742.6 540 741.5 539.2 740.8 538 740.8 537 741.3 536ZM757.8 535.5 759.5 535.2 761.5 535.7 763 537 764 539 764.1 541 763.5 542.7 763 543.5 762 544.4 760.5 545.1 758.5 545.2 757.5 544.8 756.5 544.2 755 542.5 753.8 540 753.8 539 754.3 538 755.9 536.5ZM870.5 545.5 871 545.5 871.6 546 871.8 546.5 871.8 547.5 871.5 548.5 871.1 549 870.1 549.5 869.5 549.4 869.2 549 868.9 548.5 868.9 547.5 869.5 546.2ZM914.4 548.5 915 548.4 916 548.6 916.5 549 917 549.6 917.4 551.5 917 554 916 556.5 914.5 558.7 912.5 560.6 910.6 561.5 910 561.6 909 561.4 908.5 561 908 560.4 907.6 558.5 908 556 909 553.5 910.5 551.3 912.5 549.4ZM801.1 629.5 802.5 629.3 803.5 629.7 804.5 630.6 805.1 632 805.3 633.5 804.9 635.5 804 637.4 803 638.3 802 638.4 800.5 637.6 799.5 636.5 798.9 635 798.7 633.5 799 631.9 799.8 630.5ZM867.6 631 869 630.6 870 630.6 871.5 631.2 872.4 632 873.1 633 873.7 634.5 874 636 873.9 638 873.5 639.5 872.9 641 872 642.2 871.1 643 869.5 643.8 866.5 644.1 865.5 644.8 864 646 863 646.2 862 646 861.5 645.5 861.3 644.5 861.5 643.8 862 643 863.5 641.9 864.1 641 864 637 864.3 635.5 864.8 634 866 632.2ZM827.2 637.5 829.5 637.1 831.5 637 834 637.3 836 637.8 838.5 638.9 840.5 640.3 842.4 642 844.5 644.7 845.7 645.5 846.5 645.7 847.5 645.7 851 644.3 852 644.2 853.5 644.3 855 644.8 856.2 645.5 857.5 646.6 858.7 648 860.1 650.5 861 653 861.4 655.5 861.5 658.5 861.2 661 860.3 663.5 859.1 665.5 857.6 667 856 667.9 854.5 668.2 853 668.1 851 667.4 849.5 666.3 848 664.7 845 659.7 844.5 659.4 843.5 659.9 841 662.3 839 663.8 836 665.2 833.5 665.8 830 666 826 665.3 824.5 665.3 818.5 666.9 812.5 667.1 811 666.9 810 666.6 809 666 808 665 807.2 663.5 807 661.5 807.5 659 808.5 657 809 656.5 810 656.2 813.5 656.9 814.5 656.7 815 656.4 815.7 655.5 815.9 654.5 816 650.5 816.4 648 817.1 646 818.1 644 820 641.6 822 639.9 824.5 638.4ZM889.9 670.5 891 670.7 892 671.4 892.7 672.5 893.1 674 893.1 675.5 892.5 677 891.5 678.4 890.5 678.8 889 678.4 888 677.6 887.3 676.5 886.9 675 886.9 673.5 887.5 672 888.5 671ZM726.9 671.5 727.5 671.1 728.5 671 729.5 671.4 730.1 672 730.6 673 730.6 674 730.4 675 729.6 676 729 676.4 728 676.5 727 676.1 726.4 675.5 725.9 674.5 725.9 673.5 726.1 672.5ZM891.9 681.5 892.5 681.6 892.6 682 892.5 682.3 892 682.2ZM894.9 684.5 897 684.6 900 685.8 903 686.4 905 687 907.2 688.5 908.9 690.5 909.6 692 909.9 693.5 910 695 909.7 696.5 909.2 698 908.2 699.5 907 700.7 905.9 701.5 904.5 702.2 903 702.6 900 702.8 894 702.1 892.6 701.5 891.6 700.5 891.1 699 891.2 697 892.2 692.5 893.1 690 893.6 686 894.1 685Z"/><path fill="#00c800" d="M580.1 302 583.5 301.7 586 302.1 587 302.7 587.8 303.5 588.1 304.5 587.9 305.5 587.1 306.5 586.5 307 584.5 308 576 310 572.5 310.2 570 311.1 569.4 311 569.6 310.5 571.5 308.7 573 306 574.5 304.5 577.1 303ZM594.3 327 595.5 327.1 596.7 327.5 597.3 328 597.6 329 597 330 596.5 330.4 594.5 331 593.5 331 592 330.5 591.5 330 591.2 329 591.8 328 592.4 327.5ZM585.9 370 587 369.8 588 370.2 589 370.9 589.9 372 590.4 373.5 590.5 374.5 590.3 375.5 589.5 376.4 588.5 376.7 587.5 376.5 586.1 375.5 585.3 374.5 584.9 373.5 584.7 372 585 370.9ZM560.8 371.5 562 371.3 563.5 371.4 566 372.2 571 375.7 576.5 378.3 577.8 379.5 578.7 381 579.2 383 579.4 387 580.8 393 580.9 395 580.7 396.5 580.2 398 579.6 399 578 400.5 576 401.4 575 401.4 573.5 401.2 571.9 400.5 570.4 399 569.3 397 568.5 394.5 568.2 392.5 568.2 391 568.7 389.5 570.1 386.5 570.2 386 570 385.3 569.6 385 569 384.9 564 385.2 562 385 560.5 384.7 559 384 558 383.3 557 382.2 556.3 381 555.8 379.5 555.7 378 555.9 376.5 556.4 375 557.5 373.5 558.5 372.6 559.5 372ZM599.1 392.5 601 392.3 603.5 393 606 394.6 608.1 397 608.9 398.5 609.5 400 609.7 402.5 609.4 403.5 609 404 608.4 404.5 607.2 405 605 405.2 602.5 404.4 600 402.7 598.1 400.5 596.9 398 596.7 396.5 596.7 395.5 597 394.5 597.5 393.6 598.1 393ZM715.2 428.5 717 428.1 719 428.3 720.5 428.8 722 429.8 723.1 431 724.1 433 724.4 434.5 724.2 436.5 723.4 438.5 722.3 440 720.5 441.3 717.9 442.5 716.7 443.5 714.5 447 712.5 449.7 711 451.2 710 452.5 709 454.9 708.5 455.6 708 455.8 707.5 455.8 707 455.5 706.7 455 706.7 454 707.7 451.5 708 448.5 708.4 447 711.2 440 711.2 439 710.6 435.5 710.9 433 711.6 431.5 712.5 430.2 713.5 429.4ZM740.4 437.5 741.5 437.2 743 437.1 744.5 437.5 745.5 437.9 746.5 438.5 747.5 439.5 748.2 440.5 748.8 442 749.1 444.5 748.4 447 747 449 746 449.8 744.6 450.5 743.5 450.8 742 450.9 740.5 450.5 739.5 450.1 738.5 449.5 737.5 448.5 736.8 447.5 736.2 446 735.9 443.5 736.6 441 738 439 739 438.2ZM653.2 453 655.5 452.7 657.5 453.3 659.2 454.5 660 455.5 660.4 456.5 660.7 457.5 660.6 459 659.9 461 658.5 462.5 656.5 463.4 654 463.5 652 462.7 650.5 461.4 649.5 459.5 649.4 457.5 650 455.5 651.3 454ZM617.2 453.5 618.5 453.3 620 454.1 621 455.4 621.6 457 621.7 459 621.3 461 620.4 462.5 619.1 463.5 618 463.7 616.5 463.1 615.5 462 614.7 460 614.5 458 615 456 616 454.3ZM664.6 463 667 462.9 668.5 463.4 669.5 463.9 671.2 465.5 672.2 467.5 672.4 468.5 672.3 470 672.1 471 671.5 472.3 670 474 669 474.6 667.5 475.2 665 475.3 663.5 474.9 662.5 474.4 661.4 473.5 660.6 472.5 659.8 470.5 659.7 468 660.1 466.5 660.6 465.5 662.1 464 663.5 463.3ZM684.8 469.5 686 469.2 687.5 469.1 689 469.5 690 470.1 691 471 691.8 472.5 692.1 473.5 692 475 691.4 476.5 690 478 688.5 478.7 684.5 479.7 683.5 480.4 683 481.2 681.8 484 680.5 485.6 679.5 486.2 678 486.7 676.5 486.5 675.5 486.1 674.9 485.5 674.2 484.5 674 483.5 674.1 482 674.7 480.5 675.6 479.5 677 478.6 679 477.7 680.1 477 680.7 476 681.6 473 682.4 471.5 683.5 470.3ZM654 479 655.5 478.9 656.5 479.1 658.4 480 659.9 481.5 660.7 483.5 660.6 485.5 659.7 487.5 658 489 656 489.7 654 489.7 652 489 650.3 487.5 649.4 485.5 649.3 483.5 650.1 481.5 651 480.5 652 479.7ZM700.9 481 702.5 480.9 703.5 481.3 704.5 482.1 705.3 483.5 705.3 485 705 486 704.2 487 703 487.7 701.5 487.9 700.3 487.5 699.1 486.5 698.5 485.5 698.3 484 698.5 483 699.5 481.7ZM745.1 484.5 745.5 484.2 746 484.3 746.1 485 746 487.5 746.2 491 745.8 495 746.5 501.5 745.8 508 745.4 510 744.9 511.5 744 513 742.5 514.4 741 515.2 739.5 515.6 737.5 515.7 735.5 515.1 734 514.3 732.7 513 731.7 511.5 731.2 510 729.2 502.5 728.7 500 728.5 497.5 728.6 495 729 493 729.7 491 730.5 489.5 731.5 488.2 732.5 487.3 734 486.5 735 486.2 736.5 486.1 740.5 486.8 742 486.8 743 486.5 743.8 486ZM859.7 503 861 503.3 862 504 862.8 505 863.5 506.5 863.8 508 863.7 509 862.8 512 862.7 513.5 864.1 518 864.3 520 864 522 862.8 524 861 525.3 859 525.7 857 525.3 855.2 524 854 522 853.7 520 854.1 517.5 856.3 513 856.4 511.5 856 508 856.3 506 856.8 505 857.5 504 858.5 503.3ZM758.5 538.5 760 538.5 760.5 538.8 761 539.5 761 541 760.5 541.7 760 542 758.7 542 758 541.5 757.6 541 757.4 540.5 757.5 539.5ZM913.2 551.5 914 551.3 914.5 551.5 915 552 915.2 553 915.1 554 914.6 555.5 914 556.6 913 557.7 911.8 558.5 911 558.7 910.5 558.5 910 558 909.8 557 909.9 556 910.4 554.5 911 553.4 912 552.3ZM867.7 632.5 869 632 870.5 632.3 871.9 633.5 872.6 635 872.9 637 872.5 639 871.5 640.9 870.2 642 868.5 642.4 867 642 866 641.1 865.4 639.5 865.1 637.5 865.4 635.5 866.5 633.5ZM829.2 638 831.5 637.9 833.5 638.1 835.5 638.6 837.5 639.4 840.5 641.4 844 645.4 845.5 646.3 847.5 646.6 851.5 645.3 853.5 645.4 855 645.9 856 646.5 857.5 647.9 858.5 649.2 859.7 651.5 860.3 653.5 860.7 656 860.8 658.5 860.3 661 859.6 663 858.5 664.8 857 666.2 856 666.7 854.5 667.1 853 667 851.5 666.5 849.5 665.1 848.1 663.5 847 661.5 845.5 658.2 845 657.5 844.5 657.4 844 657.7 842.9 659 841 661.1 838.5 663 836 664.2 833 665 830 665.1 825 664.4 823.5 664.6 819 666 813 666 811.5 665.9 810.5 665.5 809.5 664.9 808.7 664 808.3 663 808.1 661.5 808.5 660 809.1 659 810.5 658.1 813.5 658.1 814.5 657.9 815.5 657.3 816.5 656 816.9 654.5 816.8 651 817.2 648.5 818.1 646 819.6 643.5 821.5 641.4 824 639.7 826.5 638.6ZM895.1 686 896 685.6 897 685.6 900 686.9 904 687.8 906 688.9 907.6 690.5 908.2 691.5 908.7 693 908.9 694.5 908.7 696 908.2 697.5 907.5 698.6 906.5 699.7 905 700.8 902.5 701.7 900 701.8 895 701.4 893.5 700.8 892.7 700 892.2 699 892.2 697.5 893.2 693 894.3 690 894.5 687Z"/><path fill="#009900" d="M561.5 372.5 562.5 372.4 564 372.6 566.1 373.5 568.4 375.5 569.5 377 570 378 570.2 379.5 569.5 381 567.7 382.5 565.7 383.5 563 384 560.5 383.5 559.5 383 558.5 382.2 557.6 381 557.1 380 556.9 379 556.8 377.5 557.5 375.4 558.1 374.5 559.2 373.5 560.5 372.8ZM574.5 388 575.5 387.8 576 388 577 388.7 577.5 389.3 578.4 391.5 578.7 393.5 578.6 395.5 578 397.1 577.3 398 576.6 398.5 575 398.9 573.5 398.6 572 397.3 570.9 395.5 570.4 393 570.6 391.5 571.5 390 573 388.8ZM600.5 396 601.5 395.6 602.5 395.6 603.5 396 605 397.1 605.9 398.5 606.3 399.5 606.1 401 605.5 401.6 604.5 401.9 603.5 401.8 602 401 601 400.1 600.3 399 600 398 600 396.9ZM715.7 429 717 428.7 718.5 428.8 720 429.2 721.5 430.2 722.7 431.5 723.4 433 723.8 434.5 723.7 436 723 438 721.5 439.8 720 440.8 716.8 442 714.7 443 714.1 443.5 713.6 445 713 446.5 712 447.7 711 448.1 710.5 447.9 710.3 447.5 710.2 446.5 710.5 445.5 711.5 444 712.4 443 712.6 442.5 712.4 440.5 711.3 436 711.3 434 711.7 432.5 712.7 431 714 429.8ZM740.8 438 743 437.7 744.2 438 745.4 438.5 747.1 440 748.2 442 748.5 444.5 748.2 446 747.8 447 747.1 448 746.1 449 744.2 450 742 450.3 740.8 450 739.6 449.5 737.9 448 736.8 446 736.5 443.5 736.8 442 737.2 441 737.9 440 738.9 439ZM653.5 454 655.5 453.8 657 454.2 658.2 455 659.3 456.5 659.6 457.5 659.6 458.5 659.2 460 658 461.5 656.5 462.3 654.5 462.5 653 462.1 651.5 461 650.6 459.5 650.4 458.5 650.4 457.5 651 456 652 454.8ZM616.8 455 618 454.5 619 454.7 619.9 455.5 620.5 456.5 620.9 458 620.8 459.5 620.3 461 619.4 462 618.5 462.4 617.5 462.4 616.5 461.7 615.8 460.5 615.4 459 615.5 457.5 616 456ZM664.4 464 666.5 463.8 668.5 464.4 670 465.5 670.8 466.5 671.2 467.5 671.4 469.5 670.9 471.5 669.8 473 668 474.1 666 474.5 663.8 474 662 472.8 660.9 471 660.6 470 660.6 468.5 661.2 466.5 662.5 465ZM685.2 471.5 686.5 471.1 687.5 471.1 688.6 471.5 689.6 472.5 690 473.7 689.8 475 689.2 476 688 476.8 686.5 477.2 685 477.1 684 476.6 683.6 476 683.4 475 683.6 473.5 684.1 472.5ZM652.9 480.5 654.5 480.1 656.5 480.3 658 481.1 659.1 482.5 659.5 484 659.5 485 659.2 486 658.2 487.5 657 488.3 655.5 488.7 653.5 488.5 652 487.6 651 486.5 650.5 485 650.5 484 650.7 483 651.6 481.5ZM700.9 483.5 701.5 483.2 702.5 483.3 703.1 484 703 485 702.5 485.5 702 485.6 701.5 485.6 701 485.3 700.6 484.5ZM734.8 487.5 737 487.3 740.5 487.8 743.5 487.9 744 488.1 744.5 488.5 745.1 490 745.2 491.5 745.1 495.5 745.7 501.5 744.9 508.5 744.1 511 743.2 512.5 742 513.7 740.4 514.5 738.5 514.9 736.5 514.6 735 513.9 733.4 512.5 732.7 511.5 732.1 510 729.8 501.5 729.4 499 729.3 497 729.6 494.5 730.1 492.5 731 490.7 732 489.3 733.5 488.1ZM858.5 513.5 859.5 513.1 860 513.3 861 514.3 862.6 517 863.3 519.5 863 521.5 862.2 523 861 524.1 859.5 524.6 858 524.5 857 524.1 856.2 523.5 855.2 522 854.8 520.5 854.9 518.5 855.5 517 857 514.9ZM867.9 634 869 633.6 870 633.7 871 634.5 871.5 635.5 871.7 637 871.5 638.3 871 639.5 870 640.5 869 640.8 868 640.7 867.1 640 866.5 638.9 866.3 637.5 866.5 636 867 635ZM827.9 639 830 638.7 832.5 638.7 834.5 639.1 836.5 639.8 839.5 641.6 841 643 843.5 645.9 845.5 646.9 847 647.3 848 647.3 851.5 646.4 853 646.3 855 646.9 856.5 648 858 649.8 859.1 652 859.8 654.5 860.1 657.5 859.8 660 859 662.4 858 664 856.5 665.4 855 666 853.5 666.1 851.5 665.5 850.1 664.5 848.7 663 847.5 661 845.5 655.3 845 654.9 844.5 655.1 841.9 659 840 661 837.5 662.7 834.5 663.9 832.5 664.3 830.5 664.3 826 663.7 824.5 663.7 820 665 818 665.2 812.5 664.7 811.5 664.4 810.5 663.7 810 663 809.7 662 809.9 661 810.2 660.5 810.8 660 811.5 659.7 814 659.2 815 658.8 816 658 817.1 656.5 817.7 654.5 817.6 651 817.9 649 818.7 646.5 819.8 644.5 821.5 642.5 823.3 641 825.5 639.8ZM896.3 687.5 897 687.2 897.5 687.3 899.5 688 902 688.2 903.5 688.6 905.5 689.7 907 691.4 907.8 693.5 907.8 695 907.7 696 907.3 697 906.5 698.3 905.5 699.3 904.4 700 903 700.6 901.5 700.8 896.5 700.6 894.5 700 893.6 699 893.3 697.5 894.2 693.5 895.5 690 895.9 688Z"/><path fill="#ffff00" d="M560.5 374 562.5 373.5 564.5 373.9 566.2 375 567.5 376.5 568 378 567.9 379.5 567 381 565.5 382.1 563.5 382.8 561.5 382.6 560 382 558.6 380.5 558 379 558 377 558.4 376 559 375.1ZM716.2 429.5 717.5 429.3 718.5 429.4 720.5 430.2 721.5 431 722.3 432 723.1 434 723.1 436 722.3 438 720.9 439.5 720 440.1 718.5 440.7 716 441.2 714.5 440.9 713.5 440 713 439.2 712 436.5 711.8 435 711.9 434 712.7 432 714.1 430.5 715 429.9ZM741.1 438.5 743 438.3 745.1 439 746.8 440.5 747.8 442.5 747.9 443.5 747.9 445 747.1 447 745.8 448.5 743.9 449.5 742 449.7 739.9 449 738.2 447.5 737.2 445.5 737.1 444.5 737.1 443 737.9 441 739.2 439.5ZM654.5 455 656 455.1 657 455.6 657.8 456.5 658.2 457.5 658.2 459 657.7 460 656.5 460.9 655.5 461.2 654 461.1 653 460.6 652 459.5 651.7 458.5 651.9 457 652.5 456 653.5 455.3ZM617.2 456.5 618 456.1 618.5 456.1 619 456.4 619.5 457.1 619.8 458 619.8 459 619.5 459.9 619 460.6 618 460.9 617.5 460.8 616.8 460 616.5 459 616.5 458 616.8 457ZM664.5 465 666.5 464.8 668 465.2 669.1 466 670.2 467.5 670.4 468.5 670.5 469.5 670 471 669 472.4 667.5 473.2 665.5 473.5 664 473 662.6 472 661.7 470.5 661.5 469 662 467.1 663 465.9ZM654.2 481.5 655.5 481.4 656.5 481.8 657.4 482.5 658 483.5 658.1 484.5 657.9 485.5 657.2 486.5 656 487.2 655 487.4 653.5 487 652.5 486.2 652 485.2 651.9 484 652.2 483 653 482.1ZM735.3 488.5 737.5 488.4 742 489 743 489.4 743.5 489.9 744.2 491.5 744.3 495.5 744.9 501 744.8 503.5 744 508.5 743.4 510.5 742.5 512.1 741 513.3 739.5 513.9 737.5 513.9 736 513.5 734.5 512.5 733.7 511.5 732.8 509.5 730.3 500.5 730.1 498 730.2 496 730.5 494 731.1 492.5 731.9 491 733 489.7 734 489ZM858.4 516 859.5 515.9 860.5 516.4 861.4 517.5 862 519 862 520.5 861.6 521.5 861 522.4 860 523 858.5 523.2 857.5 522.8 856.5 521.7 856 520.5 856.1 519 856.5 517.9 857.5 516.6ZM868.5 636 869 635.8 869.5 635.9 870 636.5 870 637.5 869.3 638.5 868.5 638.5 868 637.7 868 636.9ZM829 639.5 831 639.3 833 639.5 835 640 837 640.8 839.5 642.5 843 646.3 844 647 845.5 647.6 848 648 851.5 647.4 853 647.3 854.5 647.7 856 648.7 857.5 650.5 858.5 652.5 859.2 655 859.4 657.5 859.1 660 858.3 662 857 663.8 855.5 664.8 854 665.1 852.5 664.9 851 664.2 850 663.3 848.9 662 847.9 660 847.2 658 846.5 654.5 846 653.8 845 653.5 844 653.9 843.5 654.5 841.7 658 840 660 837.5 661.9 835 663 833 663.5 831 663.7 826 663 824.5 663 820 664.1 818.5 664.3 816 663.9 814.5 663.5 813.6 663 813.3 662.5 813.4 661.5 816.5 658.8 818 656.3 818.4 654.5 818.4 651 818.6 649 819.3 647 820.3 645 822 643 824 641.4 826.5 640.1ZM897.8 689.5 898.5 689.2 900.5 689.1 903 689.4 904.9 690.5 906.2 692 906.8 694 906.6 696 906.2 697 905.4 698 904.5 698.8 903.5 699.4 901.5 699.9 898.5 699.7 896 699.2 895 698.4 894.7 697 895.4 693 896.5 690.8Z"/><path fill="#ffcc00" d="M561.8 376.5 563 376.4 564.1 377 564.5 377.7 564.5 378.5 564 379.5 563 379.9 562.5 380 561.5 379.6 561 379.1 560.8 378.5 560.9 377.5 561.1 377ZM715.8 431 717.5 430.7 719 430.9 720.5 431.9 721.5 433.3 721.8 435 721.6 436.5 720.6 438 719.2 439 717.5 439.5 716 439.3 714.6 438.5 713.6 437 713.2 435 713.4 433.5 714.4 432ZM740.8 440 742.5 439.6 744 439.9 745.5 440.9 746.5 442.5 746.7 444 746.5 445.5 745.6 447 744.2 448 742.5 448.4 741 448.1 739.5 447.1 738.5 445.5 738.3 444 738.5 442.5 739.4 441ZM665.8 468 666.5 468.1 667 468.5 667.1 469.5 666.5 470.1 665.5 470.1 664.9 469.5 665 468.5ZM735.5 490.5 736.5 490.3 738 490.3 740.5 490.8 741.5 491.5 741.9 492 742.7 494 743.6 500 743.3 504 742.5 507.9 742 509.5 741 511 739.5 511.9 738 512.1 737 511.9 736 511.3 735 510.2 734.2 508.5 732.2 502.5 731.7 500.5 731.5 497 732.1 494 733.5 491.8 734.5 491ZM828.1 641 830.5 640.6 832.5 640.7 834.5 641.2 836.5 642 839 643.8 841.5 646.7 844.2 649 844.9 650 845 650.5 844.8 651 842.6 653 841 656.5 839.6 658.5 837.5 660.4 835 661.7 833 662.2 831 662.4 825.5 661.7 821 661.8 819.6 661.5 819 661 818.8 660.5 818.7 659.5 819.7 655 819.8 650 820.7 647 821.9 645 823.5 643.4 825.5 642ZM848.4 650 852 649.5 853.5 649.7 855 650.5 856.5 652.2 857.5 654.7 857.7 657.5 857.5 659 857 660.4 855.8 662 854.5 662.7 853 662.7 851.5 662 850 660.4 849 658 848.3 653.5 847 651 847.2 650.5ZM899.9 691.5 901.5 691.4 902.5 691.7 903.6 692.5 904.2 693.5 904.4 694.5 904 696 903.1 697 902 697.5 901 697.7 899.5 697.5 898.5 697 897.7 696 897.5 694.5 898 693 898.9 692Z"/><path fill="#ff6600" d="M716.6 433 717.5 432.8 718.4 433 719.5 434 719.7 435 719.5 435.9 719.1 436.5 718.5 437 717.5 437.2 716.5 437 715.5 436 715.3 435 715.5 434.1 716 433.4ZM741.4 442.5 742 442.2 743 442.2 744 442.9 744.2 443.5 744.2 444.5 743.6 445.5 743 445.8 742 445.8 741 445.1 740.8 444.5 740.8 443.5ZM735.5 492.5 736.5 492.2 737.5 492.1 739.5 492.6 740.1 493 740.9 494 741.6 496 742.2 499.5 742.1 502.5 740.9 507 740.4 508 739.5 509 739 509.3 738 509.4 737.1 509 736.5 508.5 735.5 506.9 734 503.7 733.1 501 732.7 498.5 733 496 734 493.8ZM829.6 642 831.5 641.9 833 642.1 835 642.7 836.5 643.5 837.8 644.5 839 645.7 841.2 648.5 841.9 650 841.8 651 840.3 655 838.8 657.5 837.5 658.8 836 659.8 834.5 660.5 833 660.9 830 661.1 823.5 659.9 822.5 659.6 821.8 659 821.2 657.5 821.1 650.5 821.5 648.6 822.2 647 823.7 645 825.5 643.5 827.5 642.5Z"/><path fill="#ff0000" d="M736 494.5 737.5 494.2 738.6 494.5 739.7 495.5 740.5 497.5 740.9 499.5 740.8 501.5 740 503.7 739 505 738 505.4 737 504.9 735.5 503.2 734.5 501 734.1 499 734.3 497 735 495.5ZM829 643.5 830.5 643.3 832.5 643.4 834 643.8 835.5 644.5 836.9 645.5 837.8 646.5 838.9 648 839.6 649.5 839.8 651 839.6 652.5 839 654.5 838.2 656 837.4 657 836 658.2 834.5 659 833 659.5 831.5 659.7 830 659.7 825.5 658.7 824.5 658.2 823.6 657.5 822.9 656 822.4 651.5 822.7 649.5 823.3 648 824.2 646.5 825.5 645.2 827 644.2Z"/><path fill="#cc3300" d="M828.8 646.5 831 646.1 833.2 646.5 835 647.7 836.2 649.5 836.6 651.5 836.2 653.5 835 655.3 833.2 656.5 831 656.9 828.5 656.5 826.8 655.5 825.8 654 825.5 653 825.3 651.5 825.8 649.5 827 647.7Z"/></g><g stroke="#a8a8a8" stroke-width="1.3" fill="none"><line x1="262.6" y1="124.25" x2="937.4" y2="124.25" stroke-dasharray="2.2 7.62" stroke-dashoffset="-8.7"/><line x1="262.6" y1="191.62" x2="937.4" y2="191.62" stroke-dasharray="2.2 7.62" stroke-dashoffset="-8.7"/><line x1="262.6" y1="259" x2="937.4" y2="259" stroke-dasharray="2.2 7.62" stroke-dashoffset="-8.7"/><line x1="262.6" y1="326.38" x2="937.4" y2="326.38" stroke-dasharray="2.2 7.62" stroke-dashoffset="-8.7"/><line x1="262.6" y1="393.75" x2="937.4" y2="393.75" stroke-dasharray="2.2 7.62" stroke-dashoffset="-8.7"/><line x1="262.6" y1="461.12" x2="937.4" y2="461.12" stroke-dasharray="2.2 7.62" stroke-dashoffset="-8.7"/><line x1="262.6" y1="528.5" x2="937.4" y2="528.5" stroke-dasharray="2.2 7.62" stroke-dashoffset="-8.7"/><line x1="262.6" y1="595.88" x2="937.4" y2="595.88" stroke-dasharray="2.2 7.62" stroke-dashoffset="-8.7"/><line x1="262.6" y1="663.25" x2="937.4" y2="663.25" stroke-dasharray="2.2 7.62" stroke-dashoffset="-8.7"/><line x1="262.6" y1="730.62" x2="937.4" y2="730.62" stroke-dasharray="2.2 7.62" stroke-dashoffset="-8.7"/><line x1="262.6" y1="798" x2="937.4" y2="798" stroke-dasharray="2.2 7.62" stroke-dashoffset="-8.7"/><line x1="301" y1="820.3" x2="301" y2="79.25" stroke-dasharray="2.2 7.33" stroke-dashoffset="-8.5"/><line x1="358.87" y1="820.3" x2="358.87" y2="79.25" stroke-dasharray="2.2 7.33" stroke-dashoffset="-8.5"/><line x1="416.74" y1="820.3" x2="416.74" y2="79.25" stroke-dasharray="2.2 7.33" stroke-dashoffset="-8.5"/><line x1="474.61" y1="820.3" x2="474.61" y2="79.25" stroke-dasharray="2.2 7.33" stroke-dashoffset="-8.5"/><line x1="532.48" y1="820.3" x2="532.48" y2="79.25" stroke-dasharray="2.2 7.33" stroke-dashoffset="-8.5"/><line x1="590.35" y1="820.3" x2="590.35" y2="79.25" stroke-dasharray="2.2 7.33" stroke-dashoffset="-8.5"/><line x1="648.22" y1="820.3" x2="648.22" y2="79.25" stroke-dasharray="2.2 7.33" stroke-dashoffset="-8.5"/><line x1="706.09" y1="820.3" x2="706.09" y2="79.25" stroke-dasharray="2.2 7.33" stroke-dashoffset="-8.5"/><line x1="763.96" y1="820.3" x2="763.96" y2="79.25" stroke-dasharray="2.2 7.33" stroke-dashoffset="-8.5"/><line x1="821.83" y1="820.3" x2="821.83" y2="79.25" stroke-dasharray="2.2 7.33" stroke-dashoffset="-8.5"/><line x1="879.7" y1="820.3" x2="879.7" y2="79.25" stroke-dasharray="2.2 7.33" stroke-dashoffset="-8.5"/></g><g clip-path="url(#cp)" stroke="#000" stroke-width="1.2" fill="none" stroke-linejoin="round"><path d="M278 79.5 288.25 95.75 294.5 102 300 111.25 303.75 121.75 322.5 129.5 326 139.25 316.75 135.75 310.5 141.75 317.5 148 322.5 155.75 317.5 163.5 307 161.75 298.75 165.5 291.75 159.5 278 171.25 294.5 179.25 308.75 191.75 318.75 189.5 325 195.5 327.5 207.5 327.75 220.75 324.25 233.25 332.75 229.5 329.5 240 321.25 243.25 313.75 249.25 303.75 251.5 300 261.25 305.5 271.25 300.5 278 293.75 284.5 288.25 292.5 288.75 295 293.25 301.25 291.75 313.75 293.25 325.5 299.5 334.5 305.75 353.25 331.25 393.25 348 401 358.75 401 380 405 391.25 410 404.25 421.25 429.25 460.75 437 465 444.25 445 453.25 441.25 454.5 429.5 464.25 431.25 481.75 409.5 472 411.25 468.25 399.5 468.75 385.38 456.25 385.38 448.75 379.12 438.75 376.88 430.62 373.12 420 357.5 411.25 351.25 407.25 316.25 406.25 314 399 309.38 406.75 313.75 416.62 331.25 425.25 335.38 435.62 333.12 440.88 341.25 451.25 343.38 456.5 351.25 465.25 355.38 470.25 363.38 478.75 369 487.5 373.12 497.5 375.25 488.5 379.62 498.75 377.12 506.25 383.38 507.5 395 515 402 524.5 416.75 524.5 431.25 519.5 440 517.5 450.75 523.75 455.5 530.75 465.75 538.25 471.75 544.25 479.25 555 477"/><path d="M422.5 343.38 432.25 345.25 437.5 353.12 427.25 355.62 420.25 349.38 422.5 343.38"/><path d="M322.5 129.5 326.25 120 330 113.75 334.5 102 344.5 100 357 110.5 365 115 375 117.5 387.5 119.5 473.25 159.25 481.75 155.75 495 144 503.75 140 511.25 133.75 519.5 129.75 526.25 135.5 538.25 135.5 545 141.25 555 145.75 555 147 561.25 154.25 569.25 157.5 575.75 152.5 579.5 147.5 583 157.5 588.25 165.75 605 173.25 608 181.25 610.5 195.5 622 195.5 631.25 199.5 639.5 195.5 648.75 199.5 662 211.5 671.25 210 680 206.25 689.5 199.5 698.75 198 707 193.75 715 187 712 163"/><path d="M326.25 79.5 333.75 86.25 349.5 93.75 355.75 102 372.5 109.5 391.25 113 400 116.75 408 123.25 417.5 125.5 430 125.5 441.25 128 457.5 135.5 468.75 135.75 478.25 139.5 488.75 137.5 495.5 131.25 498.75 121.25 497.5 108.75 499.25 97.5 496.25 88.75 490.5 79.5"/><path d="M450 101.25 456.25 109.5 447.5 113.5 450 101.25"/><path d="M674 79.5 675 92.5 677.5 108.75 683.75 127.5 691.25 141.25 699.25 153.75 702.5 163.75 712 162 717 164.5 722 173.25 728.75 191.75 724.25 183.75 723.75 197.5 720 207.5 728.75 203.75 733.75 211.75 735.5 223 742.5 243.25 747.5 251.75 751.25 261.75 756.25 270 760 280 769.5 295 785 319.67 793 325.83 817.5 365.33 824.67 371.33 835 369.33 838.33 379.17 869.17 427 878 431.33 878.33 432 881.67 440.83 887.5 449.17 895 453 915.83 456.67 920.83 465 925 469.17 937.17 478.67 941.67 481.67"/><path d="M555 477.5 572.5 483.75 592 487 610.5 495 620.5 510.5 630 512.5 646.25 520 657.5 525 668.75 533 677.5 545 687 550 693.75 557 698.75 563.75 705 570 710 579.25 717.5 586.25 723 594.25 725.75 603.25 722 613.75 723.75 626.25 728.75 633.25 721.25 639.5 717 646.25 727.5 644.5 718.75 648.75 717 661.25 703.75 673 699.5 682.5 706.25 693.75 715 702 722.5 709.25 729.5 718.75 737.5 722.5 749.5 720.5 783.75 736.5 788.75 728.75 789.25 716.25 786.75 705 781.25 695.75 763.75 688 758 680 751.25 660.5 773 656.5 783.75 673 795 677.5 810.5 682.5 817.5 688.25 806.25 689.25 812 697.5 820.75 698.25 813.25 702.5 817.5 710 821.67 722.5 815.83 730.83 814.17 742.5 828.33 754.17 836.67 758.33 843.33 765 851.67 776.67 856.67 787.5 860.5 799.17 860.5 814.17 868 814.17 869.67 802 866.33 792.5 865.83 778.33 867.5 767.5 873.33 758.33 888.33 750.83 900 748.33 921.67 752.5 930 756.67 937.17 758.33 941.67 759.17"/><path d="M925 469.17 920.83 470.5 917.5 480.83 908.67 485 895 472.5 890 465 880.83 460.83 871.67 462.5 865.83 470.83 867.5 475 872.67 484.67 865 485.67 858.67 488.83 855.5 492.67 853.67 497.17 854.17 581.33 861.67 583.67 870 586.33 875 590 880.83 596.67 888.33 600 893.33 605.83 894.67 610 893 616.67 890 621.67 881.67 625.83 871.67 629.67 867 635.83 864.17 643.33 860 647.5 858.33 651.67 861.67 660 870 671.67 872.5 680 874.17 693.33 875 711.67 870 719.17 861.67 725.83 852.17 728.67 845.83 736.67 838.33 743 831.67 746.67 840 756.67 854.5 764.5 862.5 796.67 862.5 814.17"/></g><rect x="262.6" y="79.25" width="674.8" height="741.05" fill="none" stroke="#000" stroke-width="1.5" stroke-linejoin="round"/><path d="M262.6 124.25H257.1M262.6 191.62H257.1M262.6 259H257.1M262.6 326.38H257.1M262.6 393.75H257.1M262.6 461.12H257.1M262.6 528.5H257.1M262.6 595.88H257.1M262.6 663.25H257.1M262.6 730.62H257.1M262.6 798H257.1M301 820.3V825.8M358.87 820.3V825.8M416.74 820.3V825.8M474.61 820.3V825.8M532.48 820.3V825.8M590.35 820.3V825.8M648.22 820.3V825.8M706.09 820.3V825.8M763.96 820.3V825.8M821.83 820.3V825.8M879.7 820.3V825.8" stroke="#000" stroke-width="1.5" fill="none"/><path d="M212.27 120.75 213.2 120.22 214.59 118.61 214.59 129.85M221.78 120.75 222.71 120.22 224.1 118.61 224.1 129.85M230.83 128.78 230.36 129.31 230.83 129.85 231.29 129.31 230.83 128.78M236.16 120.75 237.09 120.22 238.48 118.61 238.48 129.85M244.75 118.61 244.75 129.85M244.75 118.61 251.24 129.85M251.24 118.61 251.24 129.85M212.27 188.13 213.2 187.59 214.59 185.99 214.59 197.22M223.17 185.99 221.78 186.53 220.85 188.13 220.39 190.81 220.39 192.41 220.85 195.09 221.78 196.69 223.17 197.22 224.1 197.22 225.49 196.69 226.42 195.09 226.88 192.41 226.88 190.81 226.42 188.13 225.49 186.53 224.1 185.99 223.17 185.99M230.83 196.16 230.36 196.69 230.83 197.22 231.29 196.69 230.83 196.16M237.09 185.99 235.7 186.53 235.24 187.59 235.24 188.66 235.7 189.73 236.63 190.27 238.48 190.81 239.88 191.34 240.8 192.41 241.27 193.48 241.27 195.09 240.8 196.16 240.34 196.69 238.95 197.22 237.09 197.22 235.7 196.69 235.24 196.16 234.77 195.09 234.77 193.48 235.24 192.41 236.16 191.34 237.56 190.81 239.41 190.27 240.34 189.73 240.8 188.66 240.8 187.59 240.34 186.53 238.95 185.99 237.09 185.99M244.75 185.99 244.75 197.22M244.75 185.99 251.24 197.22M251.24 185.99 251.24 197.22M212.27 255.51 213.2 254.97 214.59 253.37 214.59 264.6M223.17 253.37 221.78 253.9 220.85 255.51 220.39 258.18 220.39 259.79 220.85 262.46 221.78 264.06 223.17 264.6 224.1 264.6 225.49 264.06 226.42 262.46 226.88 259.79 226.88 258.18 226.42 255.51 225.49 253.9 224.1 253.37 223.17 253.37M230.83 263.53 230.36 264.06 230.83 264.6 231.29 264.06 230.83 263.53M240.34 253.37 235.7 253.37 235.24 258.18 235.7 257.65 237.09 257.11 238.48 257.11 239.88 257.65 240.8 258.72 241.27 260.32 241.27 261.39 240.8 263 239.88 264.06 238.48 264.6 237.09 264.6 235.7 264.06 235.24 263.53 234.77 262.46M244.75 253.37 244.75 264.6M244.75 253.37 251.24 264.6M251.24 253.37 251.24 264.6M212.27 322.88 213.2 322.35 214.59 320.74 214.59 331.98M223.17 320.74 221.78 321.28 220.85 322.88 220.39 325.56 220.39 327.16 220.85 329.84 221.78 331.44 223.17 331.98 224.1 331.98 225.49 331.44 226.42 329.84 226.88 327.16 226.88 325.56 226.42 322.88 225.49 321.28 224.1 320.74 223.17 320.74M230.83 330.91 230.36 331.44 230.83 331.98 231.29 331.44 230.83 330.91M235.24 323.42 235.24 322.88 235.7 321.81 236.16 321.28 237.09 320.74 238.95 320.74 239.88 321.28 240.34 321.81 240.8 322.88 240.8 323.95 240.34 325.02 239.41 326.62 234.77 331.98 241.27 331.98M244.75 320.74 244.75 331.98M244.75 320.74 251.24 331.98M251.24 320.74 251.24 331.98M226.42 391.86 225.96 393.47 225.03 394.54 223.64 395.07 223.17 395.07 221.78 394.54 220.85 393.47 220.39 391.86 220.39 391.33 220.85 389.72 221.78 388.65 223.17 388.12 223.64 388.12 225.03 388.65 225.96 389.72 226.42 391.86 226.42 394.54 225.96 397.21 225.03 398.81 223.64 399.35 222.71 399.35 221.32 398.81 220.85 397.75M230.83 398.28 230.36 398.81 230.83 399.35 231.29 398.81 230.83 398.28M240.8 391.86 240.34 393.47 239.41 394.54 238.02 395.07 237.56 395.07 236.16 394.54 235.24 393.47 234.77 391.86 234.77 391.33 235.24 389.72 236.16 388.65 237.56 388.12 238.02 388.12 239.41 388.65 240.34 389.72 240.8 391.86 240.8 394.54 240.34 397.21 239.41 398.81 238.02 399.35 237.09 399.35 235.7 398.81 235.24 397.75M244.75 388.12 244.75 399.35M244.75 388.12 251.24 399.35M251.24 388.12 251.24 399.35M226.42 459.24 225.96 460.84 225.03 461.91 223.64 462.45 223.17 462.45 221.78 461.91 220.85 460.84 220.39 459.24 220.39 458.7 220.85 457.1 221.78 456.03 223.17 455.49 223.64 455.49 225.03 456.03 225.96 457.1 226.42 459.24 226.42 461.91 225.96 464.59 225.03 466.19 223.64 466.73 222.71 466.73 221.32 466.19 220.85 465.12M230.83 465.66 230.36 466.19 230.83 466.73 231.29 466.19 230.83 465.66M240.8 457.1 240.34 456.03 238.95 455.49 238.02 455.49 236.63 456.03 235.7 457.63 235.24 460.31 235.24 462.98 235.7 465.12 236.63 466.19 238.02 466.73 238.48 466.73 239.88 466.19 240.8 465.12 241.27 463.52 241.27 462.98 240.8 461.38 239.88 460.31 238.48 459.77 238.02 459.77 236.63 460.31 235.7 461.38 235.24 462.98M244.75 455.49 244.75 466.73M244.75 455.49 251.24 466.73M251.24 455.49 251.24 466.73M226.42 526.61 225.96 528.22 225.03 529.28 223.64 529.82 223.17 529.82 221.78 529.28 220.85 528.22 220.39 526.61 220.39 526.08 220.85 524.47 221.78 523.4 223.17 522.87 223.64 522.87 225.03 523.4 225.96 524.47 226.42 526.61 226.42 529.28 225.96 531.96 225.03 533.57 223.64 534.1 222.71 534.1 221.32 533.57 220.85 532.5M230.83 533.03 230.36 533.57 230.83 534.1 231.29 533.57 230.83 533.03M235.7 522.87 240.8 522.87 238.02 527.14 239.41 527.14 240.34 527.68 240.8 528.22 241.27 529.82 241.27 530.89 240.8 532.5 239.88 533.57 238.48 534.1 237.09 534.1 235.7 533.57 235.24 533.03 234.77 531.96M244.75 522.87 244.75 534.1M244.75 522.87 251.24 534.1M251.24 522.87 251.24 534.1M240.8 593.99 240.34 595.59 239.41 596.66 238.02 597.2 237.56 597.2 236.16 596.66 235.24 595.59 234.77 593.99 234.77 593.45 235.24 591.85 236.16 590.77 237.56 590.24 238.02 590.24 239.41 590.77 240.34 591.85 240.8 593.99 240.8 596.66 240.34 599.34 239.41 600.94 238.02 601.48 237.09 601.48 235.7 600.94 235.24 599.87M244.75 590.24 244.75 601.48M244.75 590.24 251.24 601.48M251.24 590.24 251.24 601.48M222.71 657.62 221.32 658.15 220.85 659.22 220.85 660.29 221.32 661.36 222.24 661.89 224.1 662.43 225.49 662.97 226.42 664.03 226.88 665.11 226.88 666.71 226.42 667.78 225.96 668.32 224.56 668.85 222.71 668.85 221.32 668.32 220.85 667.78 220.39 666.71 220.39 665.11 220.85 664.03 221.78 662.97 223.17 662.43 225.03 661.89 225.96 661.36 226.42 660.29 226.42 659.22 225.96 658.15 224.56 657.62 222.71 657.62M230.83 667.78 230.36 668.32 230.83 668.85 231.29 668.32 230.83 667.78M241.27 657.62 236.63 668.85M234.77 657.62 241.27 657.62M244.75 657.62 244.75 668.85M244.75 657.62 251.24 668.85M251.24 657.62 251.24 668.85M222.71 724.99 221.32 725.52 220.85 726.6 220.85 727.67 221.32 728.74 222.24 729.27 224.1 729.81 225.49 730.34 226.42 731.41 226.88 732.48 226.88 734.09 226.42 735.15 225.96 735.69 224.56 736.23 222.71 736.23 221.32 735.69 220.85 735.15 220.39 734.09 220.39 732.48 220.85 731.41 221.78 730.34 223.17 729.81 225.03 729.27 225.96 728.74 226.42 727.67 226.42 726.6 225.96 725.52 224.56 724.99 222.71 724.99M230.83 735.15 230.36 735.69 230.83 736.23 231.29 735.69 230.83 735.15M239.41 724.99 234.77 732.48 241.73 732.48M239.41 724.99 239.41 736.23M244.75 724.99 244.75 736.23M244.75 724.99 251.24 736.23M251.24 724.99 251.24 736.23M222.71 792.37 221.32 792.9 220.85 793.97 220.85 795.04 221.32 796.11 222.24 796.64 224.1 797.18 225.49 797.72 226.42 798.78 226.88 799.86 226.88 801.46 226.42 802.53 225.96 803.07 224.56 803.6 222.71 803.6 221.32 803.07 220.85 802.53 220.39 801.46 220.39 799.86 220.85 798.78 221.78 797.72 223.17 797.18 225.03 796.64 225.96 796.11 226.42 795.04 226.42 793.97 225.96 792.9 224.56 792.37 222.71 792.37M230.83 802.53 230.36 803.07 230.83 803.6 231.29 803.07 230.83 802.53M236.16 794.5 237.09 793.97 238.48 792.37 238.48 803.6M244.75 792.37 244.75 803.6M244.75 792.37 251.24 803.6M251.24 792.37 251.24 803.6M282.52 829.06 281.13 829.6 280.67 830.67 280.67 831.74 281.13 832.81 282.06 833.34 283.91 833.88 285.29 834.41 286.22 835.48 286.68 836.55 286.68 838.16 286.22 839.23 285.75 839.76 284.37 840.3 282.52 840.3 281.13 839.76 280.67 839.23 280.21 838.16 280.21 836.55 280.67 835.48 281.6 834.41 282.98 833.88 284.83 833.34 285.75 832.81 286.22 831.74 286.22 830.67 285.75 829.6 284.37 829.06 282.52 829.06M295.23 829.06 290.61 829.06 290.14 833.88 290.61 833.34 291.99 832.81 293.38 832.81 294.76 833.34 295.69 834.41 296.15 836.02 296.15 837.09 295.69 838.69 294.76 839.76 293.38 840.3 291.99 840.3 290.61 839.76 290.14 839.23 289.68 838.16M300.08 839.23 299.61 839.76 300.08 840.3 300.54 839.76 300.08 839.23M306.31 829.06 304.93 829.6 304.47 830.67 304.47 831.74 304.93 832.81 305.85 833.34 307.7 833.88 309.09 834.41 310.01 835.48 310.47 836.55 310.47 838.16 310.01 839.23 309.55 839.76 308.16 840.3 306.31 840.3 304.93 839.76 304.47 839.23 304 838.16 304 836.55 304.47 835.48 305.39 834.41 306.78 833.88 308.62 833.34 309.55 832.81 310.01 831.74 310.01 830.67 309.55 829.6 308.16 829.06 306.31 829.06M313.01 829.06 315.32 840.3M317.63 829.06 315.32 840.3M317.63 829.06 319.94 840.3M322.25 829.06 319.94 840.3M340.39 829.06 339 829.6 338.54 830.67 338.54 831.74 339 832.81 339.93 833.34 341.78 833.88 343.16 834.41 344.09 835.48 344.55 836.55 344.55 838.16 344.09 839.23 343.62 839.76 342.24 840.3 340.39 840.3 339 839.76 338.54 839.23 338.08 838.16 338.08 836.55 338.54 835.48 339.47 834.41 340.85 833.88 342.7 833.34 343.62 832.81 344.09 831.74 344.09 830.67 343.62 829.6 342.24 829.06 340.39 829.06M353.1 829.06 348.48 829.06 348.01 833.88 348.48 833.34 349.86 832.81 351.25 832.81 352.63 833.34 353.56 834.41 354.02 836.02 354.02 837.09 353.56 838.69 352.63 839.76 351.25 840.3 349.86 840.3 348.48 839.76 348.01 839.23 347.55 838.16M357.95 839.23 357.48 839.76 357.95 840.3 358.41 839.76 357.95 839.23M367.42 829.06 362.8 829.06 362.34 833.88 362.8 833.34 364.18 832.81 365.57 832.81 366.96 833.34 367.88 834.41 368.34 836.02 368.34 837.09 367.88 838.69 366.96 839.76 365.57 840.3 364.18 840.3 362.8 839.76 362.34 839.23 361.87 838.16M370.88 829.06 373.19 840.3M375.5 829.06 373.19 840.3M375.5 829.06 377.81 840.3M380.12 829.06 377.81 840.3M398.26 829.06 396.87 829.6 396.41 830.67 396.41 831.74 396.87 832.81 397.8 833.34 399.65 833.88 401.03 834.41 401.96 835.48 402.42 836.55 402.42 838.16 401.96 839.23 401.49 839.76 400.11 840.3 398.26 840.3 396.87 839.76 396.41 839.23 395.95 838.16 395.95 836.55 396.41 835.48 397.34 834.41 398.72 833.88 400.57 833.34 401.49 832.81 401.96 831.74 401.96 830.67 401.49 829.6 400.11 829.06 398.26 829.06M410.97 829.06 406.35 829.06 405.88 833.88 406.35 833.34 407.73 832.81 409.12 832.81 410.5 833.34 411.43 834.41 411.89 836.02 411.89 837.09 411.43 838.69 410.5 839.76 409.12 840.3 407.73 840.3 406.35 839.76 405.88 839.23 405.42 838.16M415.82 839.23 415.35 839.76 415.82 840.3 416.28 839.76 415.82 839.23M420.21 831.74 420.21 831.2 420.67 830.13 421.13 829.6 422.05 829.06 423.9 829.06 424.83 829.6 425.29 830.13 425.75 831.2 425.75 832.27 425.29 833.34 424.36 834.95 419.74 840.3 426.21 840.3M428.75 829.06 431.06 840.3M433.37 829.06 431.06 840.3M433.37 829.06 435.68 840.3M437.99 829.06 435.68 840.3M456.13 829.06 454.74 829.6 454.28 830.67 454.28 831.74 454.74 832.81 455.67 833.34 457.52 833.88 458.9 834.41 459.83 835.48 460.29 836.55 460.29 838.16 459.83 839.23 459.36 839.76 457.98 840.3 456.13 840.3 454.74 839.76 454.28 839.23 453.82 838.16 453.82 836.55 454.28 835.48 455.21 834.41 456.59 833.88 458.44 833.34 459.36 832.81 459.83 831.74 459.83 830.67 459.36 829.6 457.98 829.06 456.13 829.06M467.91 829.06 463.29 836.55 470.22 836.55M467.91 829.06 467.91 840.3M473.69 839.23 473.22 839.76 473.69 840.3 474.15 839.76 473.69 839.23M483.62 832.81 483.16 834.41 482.23 835.48 480.85 836.02 480.39 836.02 479 835.48 478.08 834.41 477.61 832.81 477.61 832.27 478.08 830.67 479 829.6 480.39 829.06 480.85 829.06 482.23 829.6 483.16 830.67 483.62 832.81 483.62 835.48 483.16 838.16 482.23 839.76 480.85 840.3 479.92 840.3 478.54 839.76 478.08 838.69M486.62 829.06 488.93 840.3M491.24 829.06 488.93 840.3M491.24 829.06 493.55 840.3M495.86 829.06 493.55 840.3M514 829.06 512.61 829.6 512.15 830.67 512.15 831.74 512.61 832.81 513.54 833.34 515.39 833.88 516.77 834.41 517.7 835.48 518.16 836.55 518.16 838.16 517.7 839.23 517.23 839.76 515.85 840.3 514 840.3 512.61 839.76 512.15 839.23 511.69 838.16 511.69 836.55 512.15 835.48 513.08 834.41 514.46 833.88 516.31 833.34 517.23 832.81 517.7 831.74 517.7 830.67 517.23 829.6 515.85 829.06 514 829.06M525.78 829.06 521.16 836.55 528.09 836.55M525.78 829.06 525.78 840.3M531.56 839.23 531.09 839.76 531.56 840.3 532.02 839.76 531.56 839.23M541.49 830.67 541.03 829.6 539.64 829.06 538.72 829.06 537.33 829.6 536.41 831.2 535.94 833.88 535.94 836.55 536.41 838.69 537.33 839.76 538.72 840.3 539.18 840.3 540.56 839.76 541.49 838.69 541.95 837.09 541.95 836.55 541.49 834.95 540.56 833.88 539.18 833.34 538.72 833.34 537.33 833.88 536.41 834.95 535.94 836.55M544.49 829.06 546.8 840.3M549.11 829.06 546.8 840.3M549.11 829.06 551.42 840.3M553.73 829.06 551.42 840.3M571.87 829.06 570.48 829.6 570.02 830.67 570.02 831.74 570.48 832.81 571.41 833.34 573.26 833.88 574.64 834.41 575.57 835.48 576.03 836.55 576.03 838.16 575.57 839.23 575.1 839.76 573.72 840.3 571.87 840.3 570.48 839.76 570.02 839.23 569.56 838.16 569.56 836.55 570.02 835.48 570.95 834.41 572.33 833.88 574.18 833.34 575.1 832.81 575.57 831.74 575.57 830.67 575.1 829.6 573.72 829.06 571.87 829.06M583.65 829.06 579.03 836.55 585.96 836.55M583.65 829.06 583.65 840.3M589.43 839.23 588.96 839.76 589.43 840.3 589.89 839.76 589.43 839.23M594.28 829.06 599.36 829.06 596.59 833.34 597.97 833.34 598.9 833.88 599.36 834.41 599.82 836.02 599.82 837.09 599.36 838.69 598.43 839.76 597.05 840.3 595.66 840.3 594.28 839.76 593.81 839.23 593.35 838.16M602.36 829.06 604.67 840.3M606.98 829.06 604.67 840.3M606.98 829.06 609.29 840.3M611.6 829.06 609.29 840.3M636.9 829.06 635.51 829.6 635.05 830.67 635.05 831.74 635.51 832.81 636.44 833.34 638.29 833.88 639.67 834.41 640.6 835.48 641.06 836.55 641.06 838.16 640.6 839.23 640.13 839.76 638.75 840.3 636.9 840.3 635.51 839.76 635.05 839.23 634.59 838.16 634.59 836.55 635.05 835.48 635.98 834.41 637.36 833.88 639.21 833.34 640.13 832.81 640.6 831.74 640.6 830.67 640.13 829.6 638.75 829.06 636.9 829.06M648.68 829.06 644.06 836.55 650.99 836.55M648.68 829.06 648.68 840.3M653.07 829.06 655.38 840.3M657.69 829.06 655.38 840.3M657.69 829.06 660 840.3M662.31 829.06 660 840.3M687.61 829.06 686.22 829.6 685.76 830.67 685.76 831.74 686.22 832.81 687.15 833.34 689 833.88 690.38 834.41 691.31 835.48 691.77 836.55 691.77 838.16 691.31 839.23 690.84 839.76 689.46 840.3 687.61 840.3 686.22 839.76 685.76 839.23 685.3 838.16 685.3 836.55 685.76 835.48 686.69 834.41 688.07 833.88 689.92 833.34 690.84 832.81 691.31 831.74 691.31 830.67 690.84 829.6 689.46 829.06 687.61 829.06M695.69 829.06 700.78 829.06 698 833.34 699.39 833.34 700.31 833.88 700.78 834.41 701.24 836.02 701.24 837.09 700.78 838.69 699.85 839.76 698.47 840.3 697.08 840.3 695.69 839.76 695.23 839.23 694.77 838.16M705.17 839.23 704.7 839.76 705.17 840.3 705.63 839.76 705.17 839.23M715.56 829.06 710.94 840.3M709.09 829.06 715.56 829.06M718.1 829.06 720.41 840.3M722.72 829.06 720.41 840.3M722.72 829.06 725.03 840.3M727.34 829.06 725.03 840.3M745.48 829.06 744.09 829.6 743.63 830.67 743.63 831.74 744.09 832.81 745.02 833.34 746.87 833.88 748.25 834.41 749.18 835.48 749.64 836.55 749.64 838.16 749.18 839.23 748.71 839.76 747.33 840.3 745.48 840.3 744.09 839.76 743.63 839.23 743.17 838.16 743.17 836.55 743.63 835.48 744.56 834.41 745.94 833.88 747.79 833.34 748.71 832.81 749.18 831.74 749.18 830.67 748.71 829.6 747.33 829.06 745.48 829.06M753.56 829.06 758.65 829.06 755.88 833.34 757.26 833.34 758.18 833.88 758.65 834.41 759.11 836.02 759.11 837.09 758.65 838.69 757.72 839.76 756.34 840.3 754.95 840.3 753.56 839.76 753.1 839.23 752.64 838.16M763.04 839.23 762.57 839.76 763.04 840.3 763.5 839.76 763.04 839.23M771.58 829.06 766.96 836.55 773.89 836.55M771.58 829.06 771.58 840.3M775.97 829.06 778.28 840.3M780.59 829.06 778.28 840.3M780.59 829.06 782.9 840.3M785.21 829.06 782.9 840.3M803.35 829.06 801.96 829.6 801.5 830.67 801.5 831.74 801.96 832.81 802.89 833.34 804.74 833.88 806.12 834.41 807.05 835.48 807.51 836.55 807.51 838.16 807.05 839.23 806.58 839.76 805.2 840.3 803.35 840.3 801.96 839.76 801.5 839.23 801.04 838.16 801.04 836.55 801.5 835.48 802.43 834.41 803.81 833.88 805.66 833.34 806.58 832.81 807.05 831.74 807.05 830.67 806.58 829.6 805.2 829.06 803.35 829.06M811.43 829.06 816.52 829.06 813.74 833.34 815.13 833.34 816.05 833.88 816.52 834.41 816.98 836.02 816.98 837.09 816.52 838.69 815.59 839.76 814.21 840.3 812.82 840.3 811.43 839.76 810.97 839.23 810.51 838.16M820.91 839.23 820.44 839.76 820.91 840.3 821.37 839.76 820.91 839.23M826.22 831.2 827.14 830.67 828.53 829.06 828.53 840.3M833.84 829.06 836.15 840.3M838.46 829.06 836.15 840.3M838.46 829.06 840.77 840.3M843.08 829.06 840.77 840.3M861.22 829.06 859.83 829.6 859.37 830.67 859.37 831.74 859.83 832.81 860.76 833.34 862.61 833.88 863.99 834.41 864.92 835.48 865.38 836.55 865.38 838.16 864.92 839.23 864.45 839.76 863.07 840.3 861.22 840.3 859.83 839.76 859.37 839.23 858.91 838.16 858.91 836.55 859.37 835.48 860.3 834.41 861.68 833.88 863.53 833.34 864.45 832.81 864.92 831.74 864.92 830.67 864.45 829.6 863.07 829.06 861.22 829.06M868.84 831.74 868.84 831.2 869.3 830.13 869.77 829.6 870.69 829.06 872.54 829.06 873.46 829.6 873.92 830.13 874.39 831.2 874.39 832.27 873.92 833.34 873 834.95 868.38 840.3 874.85 840.3M878.78 839.23 878.31 839.76 878.78 840.3 879.24 839.76 878.78 839.23M885.01 829.06 883.63 829.6 883.16 830.67 883.16 831.74 883.63 832.81 884.55 833.34 886.4 833.88 887.78 834.41 888.71 835.48 889.17 836.55 889.17 838.16 888.71 839.23 888.25 839.76 886.86 840.3 885.01 840.3 883.63 839.76 883.16 839.23 882.7 838.16 882.7 836.55 883.16 835.48 884.09 834.41 885.47 833.88 887.32 833.34 888.25 832.81 888.71 831.74 888.71 830.67 888.25 829.6 886.86 829.06 885.01 829.06M891.71 829.06 894.02 840.3M896.33 829.06 894.02 840.3M896.33 829.06 898.64 840.3M900.95 829.06 898.64 840.3" stroke="#000" stroke-width="1.35" fill="none" stroke-linecap="round" stroke-linejoin="round"/><path d="M134.54 8.35 134.54 29.35M142.46 8.35 142.46 29.35M142.46 8.35 149.91 29.35M157.36 8.35 149.91 29.35M157.36 8.35 157.36 29.35M165.28 8.35 165.28 29.35M165.28 8.35 178.31 29.35M178.31 8.35 178.31 29.35M201.12 4.35 184.37 36.35M219.28 11.35 217.42 9.35 214.63 8.35 210.9 8.35 208.11 9.35 206.25 11.35 206.25 13.35 207.18 15.35 208.11 16.35 209.97 17.35 215.56 19.35 217.42 20.35 218.35 21.35 219.28 23.35 219.28 26.35 217.42 28.35 214.63 29.35 210.9 29.35 208.11 28.35 206.25 26.35M230.92 8.35 223.48 29.35M230.92 8.35 238.37 29.35M226.27 22.35 235.58 22.35M243.5 8.35 243.5 29.35M243.5 8.35 251.88 8.35 254.67 9.35 255.6 10.35 256.53 12.35 256.53 14.35 255.6 16.35 254.67 17.35 251.88 18.35 243.5 18.35M250.01 18.35 256.53 29.35M268.17 8.35 260.73 29.35M268.17 8.35 275.62 29.35M263.52 22.35 272.83 22.35M280.75 8.35 280.75 29.35M280.75 8.35 289.13 8.35 291.92 9.35 292.85 10.35 293.78 12.35 293.78 15.35 292.85 17.35 291.92 18.35 289.13 19.35 280.75 19.35M300.77 8.35 300.77 29.35M313.34 8.35 311.48 9.35 309.62 11.35 308.69 13.35 307.76 16.35 307.76 21.35 308.69 24.35 309.62 26.35 311.48 28.35 313.34 29.35 317.07 29.35 318.93 28.35 320.79 26.35 321.72 24.35 322.65 21.35 322.65 16.35 321.72 13.35 320.79 11.35 318.93 9.35 317.07 8.35 313.34 8.35M316.13 25.35 321.72 31.35M329.64 8.35 329.64 23.35 330.57 26.35 332.43 28.35 335.22 29.35 337.09 29.35 339.88 28.35 341.74 26.35 342.67 23.35 342.67 8.35M350.59 8.35 350.59 29.35M353.67 36.7 372.1 36.7M387.28 8.35 377.97 8.35 377.04 17.35 377.97 16.35 380.76 15.35 383.56 15.35 386.35 16.35 388.21 18.35 389.14 21.35 389.14 23.35 388.21 26.35 386.35 28.35 383.56 29.35 380.76 29.35 377.97 28.35 377.04 27.35 376.11 25.35M413 8.35 413 29.35M413 8.35 421.37 8.35 424.17 9.35 425.1 10.35 426.03 12.35 426.03 15.35 425.1 17.35 424.17 18.35 421.37 19.35 413 19.35M433.02 15.35 433.02 29.35M433.02 21.35 433.95 18.35 435.81 16.35 437.67 15.35 440.46 15.35M444.66 21.35 455.83 21.35 455.83 19.35 454.9 17.35 453.97 16.35 452.11 15.35 449.31 15.35 447.45 16.35 445.59 18.35 444.66 21.35 444.66 23.35 445.59 26.35 447.45 28.35 449.31 29.35 452.11 29.35 453.97 28.35 455.83 26.35M473.06 18.35 471.2 16.35 469.33 15.35 466.54 15.35 464.68 16.35 462.82 18.35 461.89 21.35 461.89 23.35 462.82 26.35 464.68 28.35 466.54 29.35 469.33 29.35 471.2 28.35 473.06 26.35M479.11 8.35 480.05 9.35 480.98 8.35 480.05 7.35 479.11 8.35M480.05 15.35 480.05 29.35M487.96 15.35 487.96 36.35M487.96 18.35 489.83 16.35 491.69 15.35 494.48 15.35 496.34 16.35 498.2 18.35 499.14 21.35 499.14 23.35 498.2 26.35 496.34 28.35 494.48 29.35 491.69 29.35 489.83 28.35 487.96 26.35M505.19 8.35 506.12 9.35 507.05 8.35 506.12 7.35 505.19 8.35M506.12 15.35 506.12 29.35M514.97 8.35 514.97 25.35 515.9 28.35 517.76 29.35 519.63 29.35M512.18 15.35 518.7 15.35M535.92 15.35 535.92 29.35M535.92 18.35 534.06 16.35 532.2 15.35 529.41 15.35 527.54 16.35 525.68 18.35 524.75 21.35 524.75 23.35 525.68 26.35 527.54 28.35 529.41 29.35 532.2 29.35 534.06 28.35 535.92 26.35M554.08 18.35 552.22 16.35 550.36 15.35 547.57 15.35 545.7 16.35 543.84 18.35 542.91 21.35 542.91 23.35 543.84 26.35 545.7 28.35 547.57 29.35 550.36 29.35 552.22 28.35 554.08 26.35M560.14 8.35 561.07 9.35 562 8.35 561.07 7.35 560.14 8.35M561.07 15.35 561.07 29.35M572.71 15.35 570.85 16.35 568.99 18.35 568.06 21.35 568.06 23.35 568.99 26.35 570.85 28.35 572.71 29.35 575.5 29.35 577.37 28.35 579.23 26.35 580.16 23.35 580.16 21.35 579.23 18.35 577.37 16.35 575.5 15.35 572.71 15.35M587.15 15.35 587.15 29.35M587.15 19.35 589.94 16.35 591.8 15.35 594.59 15.35 596.46 16.35 597.39 19.35 597.39 29.35M626.83 8.35 619.38 29.35M626.83 8.35 634.27 29.35M622.17 22.35 631.48 22.35M649.64 18.35 647.78 16.35 645.92 15.35 643.12 15.35 641.26 16.35 639.4 18.35 638.47 21.35 638.47 23.35 639.4 26.35 641.26 28.35 643.12 29.35 645.92 29.35 647.78 28.35 649.64 26.35M656.63 15.35 656.63 25.35 657.56 28.35 659.42 29.35 662.21 29.35 664.08 28.35 666.87 25.35M666.87 15.35 666.87 29.35M674.79 15.35 674.79 29.35M674.79 19.35 677.58 16.35 679.44 15.35 682.23 15.35 684.1 16.35 685.03 19.35 685.03 29.35M685.03 19.35 687.82 16.35 689.68 15.35 692.48 15.35 694.34 16.35 695.27 19.35 695.27 29.35M703.19 15.35 703.19 25.35 704.12 28.35 705.98 29.35 708.77 29.35 710.63 28.35 713.43 25.35M713.43 15.35 713.43 29.35M721.35 8.35 721.35 29.35M739.5 15.35 739.5 29.35M739.5 18.35 737.64 16.35 735.78 15.35 732.99 15.35 731.13 16.35 729.26 18.35 728.33 21.35 728.33 23.35 729.26 26.35 731.13 28.35 732.99 29.35 735.78 29.35 737.64 28.35 739.5 26.35M757.66 8.35 757.66 29.35M757.66 18.35 755.8 16.35 753.94 15.35 751.15 15.35 749.28 16.35 747.42 18.35 746.49 21.35 746.49 23.35 747.42 26.35 749.28 28.35 751.15 29.35 753.94 29.35 755.8 28.35 757.66 26.35M775.82 15.35 775.82 29.35M775.82 18.35 773.96 16.35 772.1 15.35 769.31 15.35 767.44 16.35 765.58 18.35 764.65 21.35 764.65 23.35 765.58 26.35 767.44 28.35 769.31 29.35 772.1 29.35 773.96 28.35 775.82 26.35M799.68 21.35 810.85 21.35 810.85 19.35 809.92 17.35 808.99 16.35 807.12 15.35 804.33 15.35 802.47 16.35 800.61 18.35 799.68 21.35 799.68 23.35 800.61 26.35 802.47 28.35 804.33 29.35 807.12 29.35 808.99 28.35 810.85 26.35M817.83 15.35 817.83 29.35M817.83 19.35 820.63 16.35 822.49 15.35 825.28 15.35 827.14 16.35 828.08 19.35 828.08 29.35M864.03 11.35 863.1 9.35 860.31 8.35 858.45 8.35 855.65 9.35 853.79 12.35 852.86 17.35 852.86 22.35 853.79 26.35 855.65 28.35 858.45 29.35 859.38 29.35 862.17 28.35 864.03 26.35 864.96 23.35 864.96 22.35 864.03 19.35 862.17 17.35 859.38 16.35 858.45 16.35 855.65 17.35 853.79 19.35 852.86 22.35M888.82 8.35 888.82 29.35M888.82 19.35 891.61 16.35 893.47 15.35 896.26 15.35 898.13 16.35 899.06 19.35 899.06 29.35M910.7 15.35 908.84 16.35 906.97 18.35 906.04 21.35 906.04 23.35 906.97 26.35 908.84 28.35 910.7 29.35 913.49 29.35 915.35 28.35 917.22 26.35 918.15 23.35 918.15 21.35 917.22 18.35 915.35 16.35 913.49 15.35 910.7 15.35M925.13 15.35 925.13 29.35M925.13 21.35 926.06 18.35 927.93 16.35 929.79 15.35 932.58 15.35M947.95 15.35 947.95 29.35M947.95 18.35 946.09 16.35 944.22 15.35 941.43 15.35 939.57 16.35 937.71 18.35 936.78 21.35 936.78 23.35 937.71 26.35 939.57 28.35 941.43 29.35 944.22 29.35 946.09 28.35 947.95 26.35M965.18 18.35 964.24 16.35 961.45 15.35 958.66 15.35 955.87 16.35 954.93 18.35 955.87 20.35 957.73 21.35 962.38 22.35 964.24 23.35 965.18 25.35 965.18 26.35 964.24 28.35 961.45 29.35 958.66 29.35 955.87 28.35 954.93 26.35M995.55 4.35 993.68 6.35 991.82 9.35 989.96 13.35 989.03 18.35 989.03 22.35 989.96 27.35 991.82 31.35 993.68 34.35 995.55 36.35M1002.53 15.35 1002.53 29.35M1002.53 19.35 1005.33 16.35 1007.19 15.35 1009.98 15.35 1011.84 16.35 1012.77 19.35 1012.77 29.35M1012.77 19.35 1015.57 16.35 1017.43 15.35 1020.22 15.35 1022.08 16.35 1023.01 19.35 1023.01 29.35M1030.93 15.35 1030.93 29.35M1030.93 19.35 1033.73 16.35 1035.59 15.35 1038.38 15.35 1040.24 16.35 1041.17 19.35 1041.17 29.35M1041.17 19.35 1043.97 16.35 1045.83 15.35 1048.62 15.35 1050.48 16.35 1051.41 19.35 1051.41 29.35M1058.4 4.35 1060.26 6.35 1062.13 9.35 1063.99 13.35 1064.92 18.35 1064.92 22.35 1063.99 27.35 1062.13 31.35 1060.26 34.35 1058.4 36.35M465.85 45.4 465.85 44.4 466.79 42.4 467.72 41.4 469.58 40.4 473.3 40.4 475.16 41.4 476.1 42.4 477.03 44.4 477.03 46.4 476.1 48.4 474.23 51.4 464.92 61.4 477.96 61.4M489.6 40.4 486.81 41.4 484.94 44.4 484.01 49.4 484.01 52.4 484.94 57.4 486.81 60.4 489.6 61.4 491.46 61.4 494.25 60.4 496.12 57.4 497.05 52.4 497.05 49.4 496.12 44.4 494.25 41.4 491.46 40.4 489.6 40.4M504.03 45.4 504.03 44.4 504.97 42.4 505.9 41.4 507.76 40.4 511.48 40.4 513.34 41.4 514.28 42.4 515.21 44.4 515.21 46.4 514.28 48.4 512.41 51.4 503.1 61.4 516.14 61.4M534.3 43.4 533.37 41.4 530.57 40.4 528.71 40.4 525.92 41.4 524.06 44.4 523.12 49.4 523.12 54.4 524.06 58.4 525.92 60.4 528.71 61.4 529.64 61.4 532.43 60.4 534.3 58.4 535.23 55.4 535.23 54.4 534.3 51.4 532.43 49.4 529.64 48.4 528.71 48.4 525.92 49.4 524.06 51.4 523.12 54.4M542.22 52.4 558.97 52.4M571.55 40.4 568.75 41.4 566.89 44.4 565.96 49.4 565.96 52.4 566.89 57.4 568.75 60.4 571.55 61.4 573.41 61.4 576.2 60.4 578.06 57.4 578.99 52.4 578.99 49.4 578.06 44.4 576.2 41.4 573.41 40.4 571.55 40.4M594.36 40.4 585.05 54.4 599.02 54.4M594.36 40.4 594.36 61.4M605.07 52.4 621.83 52.4M629.75 45.4 629.75 44.4 630.68 42.4 631.61 41.4 633.47 40.4 637.2 40.4 639.06 41.4 639.99 42.4 640.92 44.4 640.92 46.4 639.99 48.4 638.13 51.4 628.82 61.4 641.85 61.4M648.84 45.4 648.84 44.4 649.77 42.4 650.7 41.4 652.56 40.4 656.29 40.4 658.15 41.4 659.08 42.4 660.01 44.4 660.01 46.4 659.08 48.4 657.22 51.4 647.91 61.4 660.94 61.4M689.45 40.4 686.66 41.4 684.79 44.4 683.86 49.4 683.86 52.4 684.79 57.4 686.66 60.4 689.45 61.4 691.31 61.4 694.1 60.4 695.97 57.4 696.9 52.4 696.9 49.4 695.97 44.4 694.1 41.4 691.31 40.4 689.45 40.4M708.54 40.4 705.75 41.4 703.88 44.4 702.95 49.4 702.95 52.4 703.88 57.4 705.75 60.4 708.54 61.4 710.4 61.4 713.19 60.4 715.06 57.4 715.99 52.4 715.99 49.4 715.06 44.4 713.19 41.4 710.4 40.4 708.54 40.4M735.08 40.4 722.04 61.4M722.04 40.4 735.08 40.4M722.04 61.4 735.08 61.4" stroke="#000" stroke-width="1.5" fill="none" stroke-linecap="round" stroke-linejoin="round"/><path d="M330.52 860.86 330.52 876.4M337.26 866.04 337.26 876.4M337.26 869 339.64 866.78 341.23 866.04 343.61 866.04 345.19 866.78 345.99 869 345.99 876.4M360.66 868.26 359.87 866.78 357.49 866.04 355.11 866.04 352.73 866.78 351.94 868.26 352.73 869.74 354.31 870.48 358.28 871.22 359.87 871.96 360.66 873.44 360.66 874.18 359.87 875.66 357.49 876.4 355.11 876.4 352.73 875.66 351.94 874.18M367.4 860.86 367.4 873.44 368.19 875.66 369.78 876.4 371.37 876.4M365.02 866.04 370.57 866.04M375.73 860.86 376.52 861.6 377.31 860.86 376.52 860.12 375.73 860.86M376.52 866.04 376.52 876.4M384.06 860.86 384.06 873.44 384.85 875.66 386.44 876.4 388.02 876.4M381.68 866.04 387.23 866.04M393.18 866.04 393.18 873.44 393.97 875.66 395.56 876.4 397.94 876.4 399.52 875.66 401.9 873.44M401.9 866.04 401.9 876.4M409.44 860.86 409.44 873.44 410.23 875.66 411.81 876.4 413.4 876.4M407.06 866.04 412.61 866.04M421.73 866.04 420.14 866.78 418.56 868.26 417.76 870.48 417.76 871.96 418.56 874.18 420.14 875.66 421.73 876.4 424.11 876.4 425.69 875.66 427.28 874.18 428.07 871.96 428.07 870.48 427.28 868.26 425.69 866.78 424.11 866.04 421.73 866.04M448.86 860.86 448.86 876.4M448.86 860.86 455.2 876.4M461.55 860.86 455.2 876.4M461.55 860.86 461.55 876.4M467.5 870.48 477.01 870.48 477.01 869 476.22 867.52 475.43 866.78 473.84 866.04 471.46 866.04 469.87 866.78 468.29 868.26 467.5 870.48 467.5 871.96 468.29 874.18 469.87 875.66 471.46 876.4 473.84 876.4 475.43 875.66 477.01 874.18M483.75 860.86 483.75 873.44 484.55 875.66 486.13 876.4 487.72 876.4M481.37 866.04 486.93 866.04M492.08 870.48 501.6 870.48 501.6 869 500.8 867.52 500.01 866.78 498.43 866.04 496.05 866.04 494.46 866.78 492.87 868.26 492.08 870.48 492.08 871.96 492.87 874.18 494.46 875.66 496.05 876.4 498.43 876.4 500.01 875.66 501.6 874.18M510.72 866.04 509.13 866.78 507.55 868.26 506.75 870.48 506.75 871.96 507.55 874.18 509.13 875.66 510.72 876.4 513.1 876.4 514.68 875.66 516.27 874.18 517.06 871.96 517.06 870.48 516.27 868.26 514.68 866.78 513.1 866.04 510.72 866.04M523.01 866.04 523.01 876.4M523.01 870.48 523.8 868.26 525.39 866.78 526.98 866.04 529.36 866.04M536.89 866.04 535.3 866.78 533.72 868.26 532.93 870.48 532.93 871.96 533.72 874.18 535.3 875.66 536.89 876.4 539.27 876.4 540.86 875.66 542.44 874.18 543.23 871.96 543.23 870.48 542.44 868.26 540.86 866.78 539.27 866.04 536.89 866.04M549.18 860.86 549.18 876.4M559.1 866.04 557.51 866.78 555.93 868.26 555.13 870.48 555.13 871.96 555.93 874.18 557.51 875.66 559.1 876.4 561.48 876.4 563.06 875.66 564.65 874.18 565.44 871.96 565.44 870.48 564.65 868.26 563.06 866.78 561.48 866.04 559.1 866.04M580.11 866.04 580.11 877.88 579.32 880.1 578.53 880.84 576.94 881.58 574.56 881.58 572.98 880.84M580.11 868.26 578.53 866.78 576.94 866.04 574.56 866.04 572.98 866.78 571.39 868.26 570.6 870.48 570.6 871.96 571.39 874.18 572.98 875.66 574.56 876.4 576.94 876.4 578.53 875.66 580.11 874.18M586.06 860.86 586.86 861.6 587.65 860.86 586.86 860.12 586.06 860.86M586.86 866.04 586.86 876.4M602.32 868.26 600.73 866.78 599.15 866.04 596.77 866.04 595.18 866.78 593.6 868.26 592.8 870.48 592.8 871.96 593.6 874.18 595.18 875.66 596.77 876.4 599.15 876.4 600.73 875.66 602.32 874.18M611.44 866.04 609.86 866.78 608.27 868.26 607.48 870.48 607.48 871.96 608.27 874.18 609.86 875.66 611.44 876.4 613.82 876.4 615.41 875.66 616.99 874.18 617.79 871.96 617.79 870.48 616.99 868.26 615.41 866.78 613.82 866.04 611.44 866.04M638.57 860.86 638.57 876.4M638.57 860.86 649.67 876.4M649.67 860.86 649.67 876.4M665.14 866.04 665.14 876.4M665.14 868.26 663.55 866.78 661.97 866.04 659.59 866.04 658 866.78 656.41 868.26 655.62 870.48 655.62 871.96 656.41 874.18 658 875.66 659.59 876.4 661.97 876.4 663.55 875.66 665.14 874.18M680.6 868.26 679.02 866.78 677.43 866.04 675.05 866.04 673.47 866.78 671.88 868.26 671.09 870.48 671.09 871.96 671.88 874.18 673.47 875.66 675.05 876.4 677.43 876.4 679.02 875.66 680.6 874.18M685.76 860.86 686.55 861.6 687.34 860.86 686.55 860.12 685.76 860.86M686.55 866.04 686.55 876.4M696.47 866.04 694.88 866.78 693.29 868.26 692.5 870.48 692.5 871.96 693.29 874.18 694.88 875.66 696.47 876.4 698.84 876.4 700.43 875.66 702.02 874.18 702.81 871.96 702.81 870.48 702.02 868.26 700.43 866.78 698.84 866.04 696.47 866.04M708.76 866.04 708.76 876.4M708.76 869 711.14 866.78 712.72 866.04 715.1 866.04 716.69 866.78 717.48 869 717.48 876.4M732.95 866.04 732.95 876.4M732.95 868.26 731.36 866.78 729.77 866.04 727.4 866.04 725.81 866.78 724.22 868.26 723.43 870.48 723.43 871.96 724.22 874.18 725.81 875.66 727.4 876.4 729.77 876.4 731.36 875.66 732.95 874.18M739.69 860.86 739.69 876.4M772.37 864.56 771.58 863.08 769.99 861.6 768.4 860.86 765.23 860.86 763.65 861.6 762.06 863.08 761.27 864.56 760.47 866.78 760.47 870.48 761.27 872.7 762.06 874.18 763.65 875.66 765.23 876.4 768.4 876.4 769.99 875.66 771.58 874.18 772.37 872.7M781.49 866.04 779.9 866.78 778.32 868.26 777.52 870.48 777.52 871.96 778.32 874.18 779.9 875.66 781.49 876.4 783.87 876.4 785.45 875.66 787.04 874.18 787.83 871.96 787.83 870.48 787.04 868.26 785.45 866.78 783.87 866.04 781.49 866.04M801.71 868.26 800.92 866.78 798.54 866.04 796.16 866.04 793.78 866.78 792.99 868.26 793.78 869.74 795.37 870.48 799.33 871.22 800.92 871.96 801.71 873.44 801.71 874.18 800.92 875.66 798.54 876.4 796.16 876.4 793.78 875.66 792.99 874.18M808.45 860.86 808.45 873.44 809.25 875.66 810.83 876.4 812.42 876.4M806.08 866.04 811.63 866.04M826.3 866.04 826.3 876.4M826.3 868.26 824.71 866.78 823.13 866.04 820.75 866.04 819.16 866.78 817.58 868.26 816.78 870.48 816.78 871.96 817.58 874.18 819.16 875.66 820.75 876.4 823.13 876.4 824.71 875.66 826.3 874.18M847.88 860.86 847.88 876.4M847.88 860.86 855.01 860.86 857.39 861.6 858.19 862.34 858.98 863.82 858.98 865.3 858.19 866.78 857.39 867.52 855.01 868.26 847.88 868.26M853.43 868.26 858.98 876.4M864.13 860.86 864.93 861.6 865.72 860.86 864.93 860.12 864.13 860.86M864.93 866.04 864.93 876.4M880.39 868.26 878.81 866.78 877.22 866.04 874.84 866.04 873.26 866.78 871.67 868.26 870.88 870.48 870.88 871.96 871.67 874.18 873.26 875.66 874.84 876.4 877.22 876.4 878.81 875.66 880.39 874.18M895.06 866.04 895.06 876.4M895.06 868.26 893.48 866.78 891.89 866.04 889.51 866.04 887.93 866.78 886.34 868.26 885.55 870.48 885.55 871.96 886.34 874.18 887.93 875.66 889.51 876.4 891.89 876.4 893.48 875.66 895.06 874.18" stroke="#000" stroke-width="1" fill="none" stroke-linecap="round" stroke-linejoin="round"/><g stroke="#000" stroke-width="1.5" stroke-linejoin="miter"><rect x="1058.4" y="725.05" width="20.8" height="42.35" fill="#66ffff"/><rect x="1058.4" y="682.7" width="20.8" height="42.35" fill="#3399ff"/><rect x="1058.4" y="640.35" width="20.8" height="42.35" fill="#0000ff"/><rect x="1058.4" y="598" width="20.8" height="42.35" fill="#00ff00"/><rect x="1058.4" y="555.65" width="20.8" height="42.35" fill="#00c800"/><rect x="1058.4" y="513.3" width="20.8" height="42.35" fill="#009900"/><rect x="1058.4" y="470.95" width="20.8" height="42.35" fill="#ffff00"/><rect x="1058.4" y="428.6" width="20.8" height="42.35" fill="#ffcc00"/><rect x="1058.4" y="386.25" width="20.8" height="42.35" fill="#ff6600"/><rect x="1058.4" y="343.9" width="20.8" height="42.35" fill="#ff0000"/><rect x="1058.4" y="301.55" width="20.8" height="42.35" fill="#cc3300"/><rect x="1058.4" y="259.2" width="20.8" height="42.35" fill="#990000"/><rect x="1058.4" y="216.85" width="20.8" height="42.35" fill="#ff00ff"/><rect x="1058.4" y="174.5" width="20.8" height="42.35" fill="#9932cc"/><rect x="1058.4" y="132.15" width="20.8" height="42.35" fill="#f5f5f5"/><path d="M1058.4 132.15L1068.8 89.15L1079.2 132.15Z" fill="#aaaaaa"/><path d="M1058.4 767.4L1068.8 810.4L1079.2 767.4Z" fill="#ffffff"/></g><path d="M1088.36 761.42 1095.31 761.42 1091.52 766.02 1093.42 766.02 1094.68 766.6 1095.31 767.17 1095.94 768.9 1095.94 770.05 1095.31 771.77 1094.05 772.92 1092.15 773.5 1090.26 773.5 1088.36 772.92 1087.73 772.35 1087.1 771.2M1101.32 772.35 1100.68 772.92 1101.32 773.5 1101.95 772.92 1101.32 772.35M1114.27 761.42 1107.95 761.42 1107.32 766.6 1107.95 766.02 1109.85 765.45 1111.74 765.45 1113.64 766.02 1114.9 767.17 1115.54 768.9 1115.54 770.05 1114.9 771.77 1113.64 772.92 1111.74 773.5 1109.85 773.5 1107.95 772.92 1107.32 772.35 1106.69 771.2M1095.94 719.07 1089.62 731.15M1087.1 719.07 1095.94 719.07M1088.99 679.02 1090.26 678.45 1092.15 676.72 1092.15 688.8M1100.68 679.6 1100.68 679.02 1101.32 677.88 1101.95 677.3 1103.21 676.72 1105.74 676.72 1107 677.3 1107.64 677.88 1108.27 679.02 1108.27 680.17 1107.64 681.32 1106.37 683.05 1100.05 688.8 1108.9 688.8M1114.27 687.65 1113.64 688.22 1114.27 688.8 1114.9 688.22 1114.27 687.65M1127.23 676.72 1120.91 676.72 1120.28 681.9 1120.91 681.32 1122.8 680.75 1124.7 680.75 1126.6 681.32 1127.86 682.47 1128.49 684.2 1128.49 685.35 1127.86 687.07 1126.6 688.22 1124.7 688.8 1122.8 688.8 1120.91 688.22 1120.28 687.65 1119.64 686.5M1088.99 636.67 1090.26 636.1 1092.15 634.37 1092.15 646.45M1107.64 634.37 1101.32 634.37 1100.68 639.55 1101.32 638.97 1103.21 638.4 1105.11 638.4 1107 638.97 1108.27 640.12 1108.9 641.85 1108.9 643 1108.27 644.72 1107 645.87 1105.11 646.45 1103.21 646.45 1101.32 645.87 1100.68 645.3 1100.05 644.15M1087.73 594.9 1087.73 594.33 1088.36 593.18 1088.99 592.6 1090.26 592.02 1092.78 592.02 1094.05 592.6 1094.68 593.18 1095.31 594.33 1095.31 595.48 1094.68 596.62 1093.42 598.35 1087.1 604.1 1095.94 604.1M1103.84 592.02 1101.95 592.6 1100.68 594.33 1100.05 597.2 1100.05 598.93 1100.68 601.8 1101.95 603.52 1103.84 604.1 1105.11 604.1 1107 603.52 1108.27 601.8 1108.9 598.93 1108.9 597.2 1108.27 594.33 1107 592.6 1105.11 592.02 1103.84 592.02M1087.73 552.55 1087.73 551.98 1088.36 550.83 1088.99 550.25 1090.26 549.67 1092.78 549.67 1094.05 550.25 1094.68 550.83 1095.31 551.98 1095.31 553.12 1094.68 554.27 1093.42 556 1087.1 561.75 1095.94 561.75M1107.64 549.67 1101.32 549.67 1100.68 554.85 1101.32 554.27 1103.21 553.7 1105.11 553.7 1107 554.27 1108.27 555.42 1108.9 557.15 1108.9 558.3 1108.27 560.02 1107 561.17 1105.11 561.75 1103.21 561.75 1101.32 561.17 1100.68 560.6 1100.05 559.45M1088.36 507.32 1095.31 507.32 1091.52 511.92 1093.42 511.92 1094.68 512.5 1095.31 513.07 1095.94 514.8 1095.94 515.95 1095.31 517.67 1094.05 518.82 1092.15 519.4 1090.26 519.4 1088.36 518.82 1087.73 518.25 1087.1 517.1M1103.84 507.32 1101.95 507.9 1100.68 509.62 1100.05 512.5 1100.05 514.23 1100.68 517.1 1101.95 518.82 1103.84 519.4 1105.11 519.4 1107 518.82 1108.27 517.1 1108.9 514.23 1108.9 512.5 1108.27 509.62 1107 507.9 1105.11 507.32 1103.84 507.32M1093.42 464.98 1087.1 473.03 1096.58 473.03M1093.42 464.98 1093.42 477.05M1103.84 464.98 1101.95 465.55 1100.68 467.28 1100.05 470.15 1100.05 471.88 1100.68 474.75 1101.95 476.48 1103.84 477.05 1105.11 477.05 1107 476.48 1108.27 474.75 1108.9 471.88 1108.9 470.15 1108.27 467.28 1107 465.55 1105.11 464.98 1103.84 464.98M1094.68 422.62 1088.36 422.62 1087.73 427.8 1088.36 427.22 1090.26 426.65 1092.15 426.65 1094.05 427.22 1095.31 428.38 1095.94 430.1 1095.94 431.25 1095.31 432.97 1094.05 434.12 1092.15 434.7 1090.26 434.7 1088.36 434.12 1087.73 433.55 1087.1 432.4M1103.84 422.62 1101.95 423.2 1100.68 424.93 1100.05 427.8 1100.05 429.52 1100.68 432.4 1101.95 434.12 1103.84 434.7 1105.11 434.7 1107 434.12 1108.27 432.4 1108.9 429.52 1108.9 427.8 1108.27 424.93 1107 423.2 1105.11 422.62 1103.84 422.62M1095.31 382 1094.68 380.85 1092.78 380.27 1091.52 380.27 1089.62 380.85 1088.36 382.57 1087.73 385.45 1087.73 388.32 1088.36 390.62 1089.62 391.77 1091.52 392.35 1092.15 392.35 1094.05 391.77 1095.31 390.62 1095.94 388.9 1095.94 388.32 1095.31 386.6 1094.05 385.45 1092.15 384.87 1091.52 384.87 1089.62 385.45 1088.36 386.6 1087.73 388.32M1103.84 380.27 1101.95 380.85 1100.68 382.57 1100.05 385.45 1100.05 387.17 1100.68 390.05 1101.95 391.77 1103.84 392.35 1105.11 392.35 1107 391.77 1108.27 390.05 1108.9 387.17 1108.9 385.45 1108.27 382.57 1107 380.85 1105.11 380.27 1103.84 380.27M1095.94 337.93 1089.62 350M1087.1 337.93 1095.94 337.93M1107.64 337.93 1101.32 337.93 1100.68 343.1 1101.32 342.52 1103.21 341.95 1105.11 341.95 1107 342.52 1108.27 343.68 1108.9 345.4 1108.9 346.55 1108.27 348.27 1107 349.43 1105.11 350 1103.21 350 1101.32 349.43 1100.68 348.85 1100.05 347.7M1095.31 299.6 1094.68 301.32 1093.42 302.47 1091.52 303.05 1090.89 303.05 1088.99 302.47 1087.73 301.32 1087.1 299.6 1087.1 299.02 1087.73 297.3 1088.99 296.15 1090.89 295.57 1091.52 295.57 1093.42 296.15 1094.68 297.3 1095.31 299.6 1095.31 302.47 1094.68 305.35 1093.42 307.07 1091.52 307.65 1090.26 307.65 1088.36 307.07 1087.73 305.92M1103.84 295.57 1101.95 296.15 1100.68 297.88 1100.05 300.75 1100.05 302.47 1100.68 305.35 1101.95 307.07 1103.84 307.65 1105.11 307.65 1107 307.07 1108.27 305.35 1108.9 302.47 1108.9 300.75 1108.27 297.88 1107 296.15 1105.11 295.57 1103.84 295.57M1088.99 255.52 1090.26 254.95 1092.15 253.22 1092.15 265.3M1103.84 253.22 1101.95 253.8 1100.68 255.52 1100.05 258.4 1100.05 260.12 1100.68 263 1101.95 264.72 1103.84 265.3 1105.11 265.3 1107 264.72 1108.27 263 1108.9 260.12 1108.9 258.4 1108.27 255.52 1107 253.8 1105.11 253.22 1103.84 253.22M1116.8 253.22 1114.9 253.8 1113.64 255.52 1113.01 258.4 1113.01 260.12 1113.64 263 1114.9 264.72 1116.8 265.3 1118.06 265.3 1119.96 264.72 1121.22 263 1121.86 260.12 1121.86 258.4 1121.22 255.52 1119.96 253.8 1118.06 253.22 1116.8 253.22M1088.99 213.17 1090.26 212.6 1092.15 210.87 1092.15 222.95M1100.68 213.75 1100.68 213.17 1101.32 212.02 1101.95 211.45 1103.21 210.87 1105.74 210.87 1107 211.45 1107.64 212.02 1108.27 213.17 1108.27 214.32 1107.64 215.47 1106.37 217.2 1100.05 222.95 1108.9 222.95M1116.8 210.87 1114.9 211.45 1113.64 213.17 1113.01 216.05 1113.01 217.77 1113.64 220.65 1114.9 222.37 1116.8 222.95 1118.06 222.95 1119.96 222.37 1121.22 220.65 1121.86 217.77 1121.86 216.05 1121.22 213.17 1119.96 211.45 1118.06 210.87 1116.8 210.87M1088.99 170.82 1090.26 170.25 1092.15 168.53 1092.15 180.6M1107.64 168.53 1101.32 168.53 1100.68 173.7 1101.32 173.12 1103.21 172.55 1105.11 172.55 1107 173.12 1108.27 174.28 1108.9 176 1108.9 177.15 1108.27 178.88 1107 180.03 1105.11 180.6 1103.21 180.6 1101.32 180.03 1100.68 179.45 1100.05 178.3M1116.8 168.53 1114.9 169.1 1113.64 170.82 1113.01 173.7 1113.01 175.42 1113.64 178.3 1114.9 180.03 1116.8 180.6 1118.06 180.6 1119.96 180.03 1121.22 178.3 1121.86 175.42 1121.86 173.7 1121.22 170.82 1119.96 169.1 1118.06 168.53 1116.8 168.53M1087.73 129.05 1087.73 128.47 1088.36 127.32 1088.99 126.75 1090.26 126.17 1092.78 126.17 1094.05 126.75 1094.68 127.32 1095.31 128.47 1095.31 129.62 1094.68 130.77 1093.42 132.5 1087.1 138.25 1095.94 138.25M1103.84 126.17 1101.95 126.75 1100.68 128.47 1100.05 131.35 1100.05 133.07 1100.68 135.95 1101.95 137.67 1103.84 138.25 1105.11 138.25 1107 137.67 1108.27 135.95 1108.9 133.07 1108.9 131.35 1108.27 128.47 1107 126.75 1105.11 126.17 1103.84 126.17M1116.8 126.17 1114.9 126.75 1113.64 128.47 1113.01 131.35 1113.01 133.07 1113.64 135.95 1114.9 137.67 1116.8 138.25 1118.06 138.25 1119.96 137.67 1121.22 135.95 1121.86 133.07 1121.86 131.35 1121.22 128.47 1119.96 126.75 1118.06 126.17 1116.8 126.17" stroke="#000" stroke-width="1.35" fill="none" stroke-linecap="round" stroke-linejoin="round"/></svg></body></html>
